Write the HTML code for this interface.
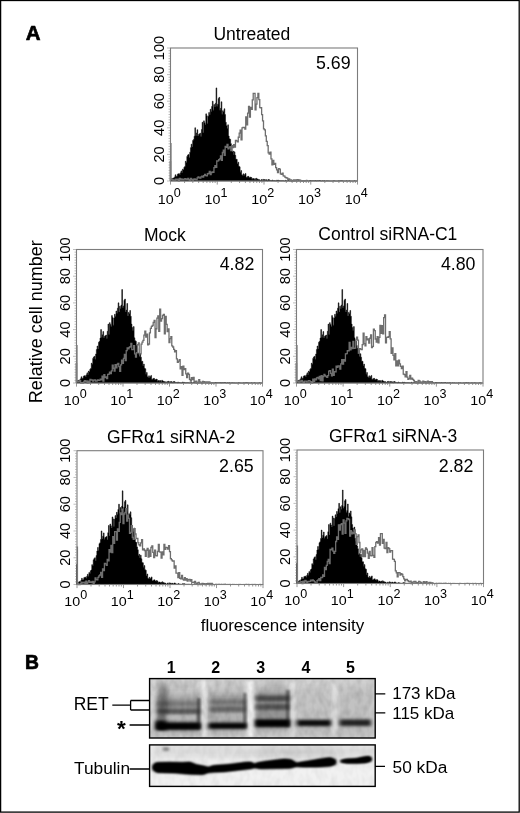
<!DOCTYPE html>
<html><head><meta charset="utf-8"><title>Figure</title>
<style>
html,body{margin:0;padding:0;background:#fff;}
body{width:520px;height:813px;overflow:hidden;position:relative;font-family:"Liberation Sans", Arial, Helvetica, sans-serif;}
#fig{position:absolute;left:0;top:0;width:520px;height:813px;display:block;filter:blur(0.35px);}
#fig text{font-family:"Liberation Sans", Arial, Helvetica, sans-serif;fill:#000;}
</style></head><body>
<svg id="fig" width="520" height="813" viewBox="0 0 520 813">
<rect x="0" y="0" width="520" height="813" fill="#fff"/>
<path d="M170.00,181.00L170.00,161.05L170.73,161.05L170.73,179.23L171.46,179.23L171.46,178.66L172.19,178.66L172.19,178.56L172.92,178.56L172.92,177.90L173.65,177.90L173.65,178.31L174.38,178.31L174.38,176.89L175.11,176.89L175.11,174.79L175.84,174.79L175.84,176.56L176.57,176.56L176.57,176.25L177.30,176.25L177.30,174.18L178.04,174.18L178.04,173.83L178.77,173.83L178.77,173.68L179.50,173.68L179.50,174.81L180.23,174.81L180.23,172.85L180.96,172.85L180.96,170.88L181.69,170.88L181.69,172.69L182.42,172.69L182.42,169.13L183.15,169.13L183.15,170.00L183.88,170.00L183.88,167.33L184.61,167.33L184.61,166.58L185.34,166.58L185.34,161.26L186.07,161.26L186.07,162.38L186.80,162.38L186.80,156.48L187.53,156.48L187.53,155.09L188.26,155.09L188.26,154.41L188.99,154.41L188.99,157.41L189.72,157.41L189.72,152.16L190.45,152.16L190.45,147.66L191.18,147.66L191.18,144.14L191.91,144.14L191.91,147.10L192.64,147.10L192.64,140.39L193.38,140.39L193.38,139.52L194.11,139.52L194.11,136.19L194.84,136.19L194.84,127.75L195.57,127.75L195.57,135.69L196.30,135.69L196.30,132.99L197.03,132.99L197.03,129.73L197.76,129.73L197.76,135.91L198.49,135.91L198.49,134.39L199.22,134.39L199.22,133.86L199.95,133.86L199.95,133.21L200.68,133.21L200.68,136.61L201.41,136.61L201.41,129.52L202.14,129.52L202.14,122.31L202.87,122.31L202.87,132.80L203.60,132.80L203.60,120.86L204.33,120.86L204.33,122.72L205.06,122.72L205.06,124.75L205.79,124.75L205.79,113.85L206.52,113.85L206.52,115.78L207.25,115.78L207.25,123.39L207.98,123.39L207.98,116.22L208.71,116.22L208.71,112.53L209.45,112.53L209.45,114.78L210.18,114.78L210.18,109.25L210.91,109.25L210.91,111.40L211.64,111.40L211.64,106.41L212.37,106.41L212.37,101.15L213.10,101.15L213.10,110.15L213.83,110.15L213.83,104.56L214.56,104.56L214.56,107.07L215.29,107.07L215.29,103.27L216.02,103.27L216.02,87.90L216.75,87.90L216.75,106.14L217.48,106.14L217.48,104.19L218.21,104.19L218.21,98.62L218.94,98.62L218.94,97.37L219.67,97.37L219.67,110.36L220.40,110.36L220.40,108.36L221.13,108.36L221.13,101.79L221.86,101.79L221.86,114.23L222.59,114.23L222.59,110.69L223.32,110.69L223.32,112.00L224.05,112.00L224.05,108.74L224.79,108.74L224.79,114.60L225.52,114.60L225.52,122.34L226.25,122.34L226.25,125.78L226.98,125.78L226.98,128.61L227.71,128.61L227.71,124.81L228.44,124.81L228.44,136.00L229.17,136.00L229.17,138.84L229.90,138.84L229.90,139.32L230.63,139.32L230.63,143.64L231.36,143.64L231.36,146.48L232.09,146.48L232.09,152.07L232.82,152.07L232.82,151.04L233.55,151.04L233.55,154.65L234.28,154.65L234.28,151.84L235.01,151.84L235.01,155.36L235.74,155.36L235.74,159.21L236.47,159.21L236.47,159.37L237.20,159.37L237.20,163.79L237.93,163.79L237.93,162.19L238.66,162.19L238.66,166.34L239.39,166.34L239.39,166.81L240.12,166.81L240.12,172.21L240.86,172.21L240.86,170.56L241.59,170.56L241.59,174.84L242.32,174.84L242.32,175.46L243.05,175.46L243.05,173.82L243.78,173.82L243.78,175.42L244.51,175.42L244.51,174.54L245.24,174.54L245.24,173.46L245.97,173.46L245.97,177.19L246.70,177.19L246.70,177.17L247.43,177.17L247.43,176.43L248.16,176.43L248.16,176.37L248.89,176.37L248.89,177.41L249.62,177.41L249.62,177.71L250.35,177.71L250.35,177.03L251.08,177.03L251.08,177.51L251.81,177.51L251.81,179.28L252.54,179.28L252.54,178.52L253.27,178.52L253.27,178.54L254.00,178.54L254.00,179.61L254.73,179.61L254.73,178.59L255.46,178.59L255.46,179.65L256.20,179.65L256.20,178.27L256.93,178.27L256.93,179.03L257.66,179.03L257.66,179.23L258.39,179.23L258.39,179.85L259.12,179.85L259.12,179.63L259.85,179.63L259.85,180.80L260.58,180.80L260.58,180.45L261.31,180.45L261.31,179.53L262.04,179.53L262.04,180.88L262.77,180.88L262.77,179.33L263.50,179.33L263.50,180.93L264.23,180.93L264.23,179.50L264.96,179.50L264.96,180.48L265.69,180.48L265.69,179.60L266.42,179.60L266.42,180.01L267.15,180.01L267.15,180.96L267.88,180.96L267.88,179.52L268.61,179.52L268.61,179.49L269.34,179.49L269.34,180.30L270.07,180.30L270.07,180.45L270.80,180.45L270.80,180.44L271.54,180.44L271.54,180.84L272.27,180.84L272.27,179.99L273.00,179.99L273.00,180.70L273.73,180.70L273.73,180.51L274.46,180.51L274.46,180.83L275.19,180.83L275.19,180.77L275.92,180.77L275.92,181.00L276.65,181.00L276.65,180.05L277.38,180.05L277.38,180.61L278.11,180.61L278.11,180.20L278.84,180.20L278.84,180.58L279.57,180.58L279.57,180.85L280.30,180.85L280.30,180.73L281.03,180.73L281.03,180.82L281.76,180.82L281.76,180.63L282.49,180.63L282.49,180.77L283.22,180.77L283.22,180.76L283.95,180.76L283.95,181.00L284.68,181.00L284.68,180.95L285.41,180.95L285.41,180.22L286.14,180.22L286.14,180.92L286.88,180.92L286.88,181.00L287.61,181.00L287.61,180.64L288.34,180.64L288.34,180.34L289.07,180.34L289.07,181.00L289.80,181.00L289.80,180.83L290.53,180.83L290.53,180.96L291.26,180.96L291.26,181.00L291.99,181.00L291.99,180.61L292.72,180.61L292.72,180.81L293.45,180.81L293.45,180.79L294.18,180.79L294.18,181.00L294.91,181.00L294.91,180.69L295.64,180.69L295.64,180.95L296.37,180.95L296.37,180.85L297.10,180.85L297.10,181.00L297.83,181.00L297.83,181.00L298.56,181.00L298.56,180.48L299.29,180.48L299.29,180.94L300.02,180.94L300.02,180.75L300.75,180.75L300.75,180.83L301.48,180.83L301.48,180.93L302.21,180.93L302.21,180.95L302.95,180.95L302.95,180.67L303.68,180.67L303.68,180.90L304.41,180.90L304.41,180.86L305.14,180.86L305.14,180.82L305.87,180.82L305.87,180.55L306.60,180.55L306.60,180.67L307.33,180.67L307.33,180.74L308.06,180.74L308.06,180.97L308.79,180.97L308.79,181.00L309.52,181.00L309.52,180.62L310.25,180.62L310.25,180.62L310.98,180.62L310.98,180.87L311.71,180.87L311.71,180.72L312.44,180.72L312.44,180.67L313.17,180.67L313.17,180.66L313.90,180.66L313.90,180.64L314.63,180.64L314.63,180.95L315.36,180.95L315.36,180.51L316.09,180.51L316.09,181.00L316.82,181.00L316.82,180.66L317.55,180.66L317.55,180.75L318.29,180.75L318.29,180.66L319.02,180.66L319.02,180.53L319.75,180.53L319.75,180.54L320.48,180.54L320.48,181.00L321.21,181.00L321.21,181.00L321.94,181.00L321.94,180.69L322.67,180.69L322.67,181.00L323.40,181.00L323.40,180.87L324.13,180.87L324.13,180.69L324.86,180.69L324.86,181.00L325.59,181.00L325.59,181.00L326.32,181.00L326.32,180.82L327.05,180.82L327.05,180.86L327.78,180.86L327.78,180.93L328.51,180.93L328.51,180.87L329.24,180.87L329.24,181.00L329.97,181.00L329.97,181.00L330.70,181.00L330.70,180.91L331.43,180.91L331.43,181.00L332.16,181.00L332.16,181.00L332.89,181.00L332.89,180.79L333.62,180.79L333.62,180.90L334.36,180.90L334.36,180.81L335.09,180.81L335.09,181.00L335.82,181.00L335.82,181.00L336.55,181.00L336.55,181.00L337.28,181.00L337.28,181.00L338.01,181.00L338.01,180.86L338.74,180.86L338.74,181.00L339.47,181.00L339.47,180.83L340.20,180.83L340.20,180.84L340.93,180.84L340.93,180.63L341.66,180.63L341.66,181.00L342.39,181.00L342.39,180.75L343.12,180.75L343.12,180.92L343.85,180.92L343.85,180.91L344.58,180.91L344.58,181.00L345.31,181.00L345.31,180.99L346.04,180.99L346.04,180.78L346.77,180.78L346.77,180.93L347.50,180.93L347.50,180.90L348.23,180.90L348.23,180.96L348.96,180.96L348.96,180.73L349.70,180.73L349.70,180.92L350.43,180.92L350.43,181.00L351.16,181.00L351.16,181.00L351.89,181.00L351.89,181.00L352.62,181.00L352.62,181.00L353.35,181.00L353.35,181.00L354.08,181.00L354.08,180.72L354.81,180.72L354.81,180.92L355.54,180.92L355.54,181.00L356.27,181.00L356.27,181.00L357.00,181.00L357.00,181.00Z" fill="#000" stroke="#000" stroke-width="0.5"/>
<path d="M170.00,143.76L170.94,143.76L170.94,179.67L171.87,179.67L171.87,179.30L172.81,179.30L172.81,180.18L173.74,180.18L173.74,179.93L174.68,179.93L174.68,180.01L175.61,180.01L175.61,179.25L176.55,179.25L176.54,179.64L177.48,179.64L177.48,179.06L178.41,179.06L178.41,180.73L179.35,180.73L179.35,178.47L180.28,178.47L180.28,179.57L181.22,179.57L181.22,178.99L182.16,178.99L182.16,179.54L183.09,179.54L183.09,179.69L184.03,179.69L184.03,179.02L184.96,179.02L184.96,178.66L185.90,178.66L185.90,179.36L186.83,179.36L186.83,179.25L187.76,179.25L187.76,178.49L188.70,178.49L188.70,179.68L189.63,179.68L189.63,180.16L190.57,180.16L190.57,178.47L191.50,178.47L191.50,179.31L192.44,179.31L192.44,180.15L193.38,180.15L193.38,179.26L194.31,179.26L194.31,178.80L195.25,178.80L195.25,179.36L196.18,179.36L196.18,179.53L197.12,179.53L197.12,177.85L198.05,177.85L198.05,176.79L198.99,176.79L198.99,177.82L199.92,177.82L199.92,178.22L200.85,178.22L200.85,176.82L201.79,176.82L201.79,176.27L202.72,176.27L202.72,177.12L203.66,177.12L203.66,175.58L204.59,175.58L204.59,174.39L205.53,174.39L205.53,175.55L206.47,175.55L206.47,175.94L207.40,175.94L207.40,173.75L208.34,173.75L208.34,173.38L209.27,173.38L209.27,171.51L210.20,171.51L210.20,174.62L211.14,174.62L211.14,172.52L212.07,172.52L212.07,171.79L213.01,171.79L213.01,172.47L213.94,172.47L213.94,167.69L214.88,167.69L214.88,165.68L215.81,165.68L215.81,167.37L216.75,167.37L216.75,160.98L217.69,160.98L217.69,160.78L218.62,160.78L218.62,159.75L219.56,159.75L219.56,158.84L220.49,158.84L220.49,155.83L221.43,155.83L221.43,160.39L222.36,160.39L222.36,152.51L223.30,152.51L223.29,150.20L224.23,150.20L224.23,155.29L225.16,155.29L225.16,146.39L226.10,146.39L226.10,147.46L227.03,147.46L227.03,144.36L227.97,144.36L227.97,148.84L228.91,148.84L228.91,147.81L229.84,147.81L229.84,146.61L230.78,146.61L230.78,150.66L231.71,150.66L231.71,145.76L232.64,145.76L232.64,147.60L233.58,147.60L233.58,144.58L234.51,144.58L234.51,147.06L235.45,147.06L235.45,140.46L236.38,140.46L236.38,140.78L237.32,140.78L237.32,141.91L238.25,141.91L238.25,137.26L239.19,137.26L239.19,133.17L240.12,133.17L240.12,130.18L241.06,130.18L241.06,139.97L242.00,139.97L242.00,127.90L242.93,127.90L242.93,127.30L243.87,127.30L243.87,127.38L244.80,127.38L244.80,129.09L245.74,129.09L245.74,116.93L246.67,116.93L246.67,124.88L247.61,124.88L247.60,113.19L248.54,113.19L248.54,106.29L249.47,106.29L249.47,117.00L250.41,117.00L250.41,107.50L251.34,107.50L251.34,109.47L252.28,109.47L252.28,99.94L253.22,99.94L253.21,93.47L254.15,93.47L254.15,93.47L255.08,93.47L255.08,109.96L256.02,109.96L256.02,104.16L256.95,104.16L256.95,97.58L257.89,97.58L257.89,93.47L258.82,93.47L258.82,99.57L259.76,99.57L259.76,107.64L260.69,107.64L260.69,107.73L261.63,107.73L261.63,114.58L262.56,114.58L262.56,120.93L263.50,120.93L263.50,128.86L264.44,128.86L264.44,129.84L265.37,129.84L265.37,135.93L266.31,135.93L266.31,141.29L267.24,141.29L267.24,145.56L268.18,145.56L268.18,152.85L269.11,152.85L269.11,153.98L270.05,153.98L270.04,152.23L270.98,152.23L270.98,158.91L271.92,158.91L271.91,164.76L272.85,164.76L272.85,160.51L273.79,160.51L273.78,164.38L274.72,164.38L274.72,163.40L275.66,163.40L275.65,167.63L276.59,167.63L276.59,169.78L277.52,169.78L277.52,172.71L278.46,172.71L278.46,168.61L279.39,168.61L279.39,169.14L280.33,169.14L280.33,173.89L281.26,173.89L281.26,174.30L282.20,174.30L282.20,173.09L283.13,173.09L283.13,175.95L284.07,175.95L284.07,176.17L285.00,176.17L285.00,177.29L285.94,177.29L285.94,177.75L286.88,177.75L286.88,178.11L287.81,178.11L287.81,179.25L288.75,179.25L288.75,178.90L289.68,178.90L289.68,180.07L290.62,180.07L290.62,179.89L291.55,179.89L291.55,181.00L292.49,181.00L292.49,180.96L293.42,180.96L293.42,179.85L294.35,179.85L294.36,180.56L295.29,180.56L295.29,180.01L296.22,180.01L296.23,180.05L297.16,180.05L297.16,179.71L298.09,179.71L298.10,179.97L299.03,179.97L299.03,179.91L299.96,179.91L299.97,180.44L300.90,180.44L300.90,180.72L301.83,180.72L301.83,180.75L302.77,180.75L302.77,180.66L303.70,180.66L303.70,180.95L304.64,180.95L304.64,180.72L305.57,180.72L305.57,180.55L306.51,180.55L306.51,180.43L307.44,180.43" fill="none" stroke="#6e6e6e" stroke-width="1.3" stroke-linejoin="miter"/>
<rect x="170.5" y="48" width="187" height="133" fill="none" stroke="#7c7c7c" stroke-width="1.1"/>
<path d="M170.50,181v3.6M184.57,181v2.0M192.81,181v2.0M198.65,181v2.0M203.18,181v2.0M206.88,181v2.0M210.01,181v2.0M212.72,181v2.0M215.11,181v2.0M217.25,181v3.6M231.32,181v2.0M239.56,181v2.0M245.40,181v2.0M249.93,181v2.0M253.63,181v2.0M256.76,181v2.0M259.47,181v2.0M261.86,181v2.0M264.00,181v3.6M278.07,181v2.0M286.31,181v2.0M292.15,181v2.0M296.68,181v2.0M300.38,181v2.0M303.51,181v2.0M306.22,181v2.0M308.61,181v2.0M310.75,181v3.6M324.82,181v2.0M333.06,181v2.0M338.90,181v2.0M343.43,181v2.0M347.13,181v2.0M350.26,181v2.0M352.97,181v2.0M355.36,181v2.0M357.5,181v3.6" stroke="#7c7c7c" stroke-width="0.8" fill="none"/>
<path d="M170,181.00h-3M170,178.34h-1.5M170,175.68h-1.5M170,173.02h-1.5M170,170.36h-1.5M170,167.70h-1.5M170,165.04h-1.5M170,162.38h-1.5M170,159.72h-1.5M170,157.06h-1.5M170,154.40h-3M170,151.74h-1.5M170,149.08h-1.5M170,146.42h-1.5M170,143.76h-1.5M170,141.10h-1.5M170,138.44h-1.5M170,135.78h-1.5M170,133.12h-1.5M170,130.46h-1.5M170,127.80h-3M170,125.14h-1.5M170,122.48h-1.5M170,119.82h-1.5M170,117.16h-1.5M170,114.50h-1.5M170,111.84h-1.5M170,109.18h-1.5M170,106.52h-1.5M170,103.86h-1.5M170,101.20h-3M170,98.54h-1.5M170,95.88h-1.5M170,93.22h-1.5M170,90.56h-1.5M170,87.90h-1.5M170,85.24h-1.5M170,82.58h-1.5M170,79.92h-1.5M170,77.26h-1.5M170,74.60h-3M170,71.94h-1.5M170,69.28h-1.5M170,66.62h-1.5M170,63.96h-1.5M170,61.30h-1.5M170,58.64h-1.5M170,55.98h-1.5M170,53.32h-1.5M170,50.66h-1.5M170,48.00h-3" stroke="#7c7c7c" stroke-width="0.5" fill="none"/>
<text transform="translate(173.60,203.75) scale(1.1,1)" text-anchor="end" font-size="13">10</text>
<text transform="translate(173.70,196.75) scale(1.05,1)" font-size="12">0</text>
<text transform="translate(220.35,203.75) scale(1.1,1)" text-anchor="end" font-size="13">10</text>
<text transform="translate(220.45,196.75) scale(1.05,1)" font-size="12">1</text>
<text transform="translate(267.10,203.75) scale(1.1,1)" text-anchor="end" font-size="13">10</text>
<text transform="translate(267.20,196.75) scale(1.05,1)" font-size="12">2</text>
<text transform="translate(313.85,203.75) scale(1.1,1)" text-anchor="end" font-size="13">10</text>
<text transform="translate(313.95,196.75) scale(1.05,1)" font-size="12">3</text>
<text transform="translate(360.60,203.75) scale(1.1,1)" text-anchor="end" font-size="13">10</text>
<text transform="translate(360.70,196.75) scale(1.05,1)" font-size="12">4</text>
<text transform="translate(163.7,181.00) rotate(-90)" text-anchor="middle" font-size="14.6">0</text>
<text transform="translate(163.7,154.40) rotate(-90)" text-anchor="middle" font-size="14.6">20</text>
<text transform="translate(163.7,127.80) rotate(-90)" text-anchor="middle" font-size="14.6">40</text>
<text transform="translate(163.7,101.20) rotate(-90)" text-anchor="middle" font-size="14.6">60</text>
<text transform="translate(163.7,74.60) rotate(-90)" text-anchor="middle" font-size="14.6">80</text>
<text transform="translate(163.7,48.00) rotate(-90)" text-anchor="middle" font-size="14.6">100</text>
<text x="251.9" y="40.1" text-anchor="middle" font-size="17.5">Untreated</text>
<text x="350.6" y="69.3" text-anchor="end" font-size="17.8">5.69</text>
<path d="M76.00,383.00L76.00,362.98L76.73,362.98L76.73,381.22L77.45,381.22L77.45,380.65L78.18,380.65L78.18,380.55L78.91,380.55L78.91,379.89L79.63,379.89L79.63,380.30L80.36,380.30L80.36,378.87L81.09,378.87L81.09,376.76L81.81,376.76L81.81,378.54L82.54,378.54L82.54,378.23L83.27,378.23L83.27,376.16L83.99,376.16L83.99,375.80L84.72,375.80L84.72,375.65L85.45,375.65L85.45,376.78L86.17,376.78L86.17,374.82L86.90,374.82L86.90,372.85L87.62,372.85L87.62,374.66L88.35,374.66L88.35,371.09L89.08,371.09L89.08,371.96L89.80,371.96L89.80,369.28L90.53,369.28L90.53,368.53L91.26,368.53L91.26,363.18L91.98,363.18L91.98,364.31L92.71,364.31L92.71,358.39L93.44,358.39L93.44,356.99L94.16,356.99L94.16,356.31L94.89,356.31L94.89,359.32L95.62,359.32L95.62,354.05L96.34,354.05L96.34,349.54L97.07,349.54L97.07,346.00L97.80,346.00L97.80,348.98L98.52,348.98L98.52,342.24L99.25,342.24L99.25,341.37L99.98,341.37L99.98,338.02L100.70,338.02L100.70,329.55L101.43,329.55L101.43,337.52L102.16,337.52L102.16,334.81L102.88,334.81L102.88,331.53L103.61,331.53L103.61,337.75L104.34,337.75L104.34,336.21L105.06,336.21L105.06,335.68L105.79,335.68L105.79,335.03L106.52,335.03L106.52,338.45L107.24,338.45L107.24,331.32L107.97,331.32L107.97,324.09L108.70,324.09L108.70,334.62L109.42,334.62L109.42,322.63L110.15,322.63L110.15,324.50L110.88,324.50L110.88,326.54L111.60,326.54L111.60,315.59L112.33,315.59L112.33,317.54L113.05,317.54L113.05,325.18L113.78,325.18L113.78,317.97L114.51,317.97L114.51,314.27L115.23,314.27L115.23,316.53L115.96,316.53L115.96,310.98L116.69,310.98L116.69,313.14L117.41,313.14L117.41,308.13L118.14,308.13L118.14,302.85L118.87,302.85L118.87,311.89L119.59,311.89L119.59,306.27L120.32,306.27L120.32,308.80L121.05,308.80L121.05,304.97L121.77,304.97L121.77,289.55L122.50,289.55L122.50,307.86L123.23,307.86L123.23,305.90L123.95,305.90L123.95,300.31L124.68,300.31L124.68,299.06L125.41,299.06L125.41,312.10L126.13,312.10L126.13,310.08L126.86,310.08L126.86,303.49L127.59,303.49L127.59,315.98L128.31,315.98L128.31,312.42L129.04,312.42L129.04,313.74L129.77,313.74L129.77,310.47L130.49,310.47L130.49,316.35L131.22,316.35L131.22,324.12L131.95,324.12L131.95,327.57L132.67,327.57L132.67,330.41L133.40,330.41L133.40,326.60L134.12,326.60L134.12,337.83L134.85,337.83L134.85,340.68L135.58,340.68L135.58,341.16L136.30,341.16L136.30,345.50L137.03,345.50L137.03,348.35L137.76,348.35L137.76,353.96L138.48,353.96L138.48,352.93L139.21,352.93L139.21,356.55L139.94,356.55L139.94,353.73L140.66,353.73L140.66,357.26L141.39,357.26L141.39,361.13L142.12,361.13L142.12,361.29L142.84,361.29L142.84,365.72L143.57,365.72L143.57,364.12L144.30,364.12L144.30,368.29L145.02,368.29L145.02,368.75L145.75,368.75L145.75,374.18L146.48,374.18L146.48,372.52L147.20,372.52L147.20,376.81L147.93,376.81L147.93,377.44L148.66,377.44L148.66,375.80L149.38,375.80L149.38,377.40L150.11,377.40L150.11,376.51L150.84,376.51L150.84,375.43L151.56,375.43L151.56,379.17L152.29,379.17L152.29,379.16L153.02,379.16L153.02,378.41L153.74,378.41L153.74,378.35L154.47,378.35L154.47,379.40L155.20,379.40L155.20,379.70L155.92,379.70L155.92,379.01L156.65,379.01L156.65,379.50L157.38,379.50L157.38,381.27L158.10,381.27L158.10,380.51L158.83,380.51L158.83,380.53L159.55,380.53L159.55,381.61L160.28,381.61L160.28,380.58L161.01,380.58L161.01,381.64L161.73,381.64L161.73,380.26L162.46,380.26L162.46,381.02L163.19,381.02L163.19,381.23L163.91,381.23L163.91,381.85L164.64,381.85L164.64,381.62L165.37,381.62L165.37,382.80L166.09,382.80L166.09,382.45L166.82,382.45L166.82,381.52L167.55,381.52L167.55,382.88L168.27,382.88L168.27,381.32L169.00,381.32L169.00,382.93L169.73,382.93L169.73,381.49L170.45,381.49L170.45,382.48L171.18,382.48L171.18,381.59L171.91,381.59L171.91,382.01L172.63,382.01L172.63,382.96L173.36,382.96L173.36,381.52L174.09,381.52L174.09,381.48L174.81,381.48L174.81,382.30L175.54,382.30L175.54,382.44L176.27,382.44L176.27,382.43L176.99,382.43L176.99,382.84L177.72,382.84L177.72,381.98L178.45,381.98L178.45,382.70L179.17,382.70L179.17,382.51L179.90,382.51L179.90,382.82L180.62,382.82L180.62,382.77L181.35,382.77L181.35,383.00L182.08,383.00L182.08,382.05L182.80,382.05L182.80,382.61L183.53,382.61L183.53,382.20L184.26,382.20L184.26,382.57L184.98,382.57L184.98,382.85L185.71,382.85L185.71,382.72L186.44,382.72L186.44,382.82L187.16,382.82L187.16,382.63L187.89,382.63L187.89,382.77L188.62,382.77L188.62,382.76L189.34,382.76L189.34,383.00L190.07,383.00L190.07,382.95L190.80,382.95L190.80,382.22L191.52,382.22L191.52,382.92L192.25,382.92L192.25,383.00L192.98,383.00L192.98,382.64L193.70,382.64L193.70,382.34L194.43,382.34L194.43,383.00L195.16,383.00L195.16,382.83L195.88,382.83L195.88,382.96L196.61,382.96L196.61,383.00L197.34,383.00L197.34,382.61L198.06,382.61L198.06,382.81L198.79,382.81L198.79,382.79L199.52,382.79L199.52,383.00L200.24,383.00L200.24,382.69L200.97,382.69L200.97,382.95L201.70,382.95L201.70,382.85L202.42,382.85L202.42,383.00L203.15,383.00L203.15,383.00L203.88,383.00L203.88,382.48L204.60,382.48L204.60,382.94L205.33,382.94L205.33,382.75L206.05,382.75L206.05,382.83L206.78,382.83L206.78,382.93L207.51,382.93L207.51,382.95L208.23,382.95L208.23,382.67L208.96,382.67L208.96,382.90L209.69,382.90L209.69,382.86L210.41,382.86L210.41,382.82L211.14,382.82L211.14,382.55L211.87,382.55L211.87,382.67L212.59,382.67L212.59,382.74L213.32,382.74L213.32,382.97L214.05,382.97L214.05,383.00L214.77,383.00L214.77,382.62L215.50,382.62L215.50,382.61L216.23,382.61L216.23,382.87L216.95,382.87L216.95,382.72L217.68,382.72L217.68,382.66L218.41,382.66L218.41,382.66L219.13,382.66L219.13,382.64L219.86,382.64L219.86,382.95L220.59,382.95L220.59,382.51L221.31,382.51L221.31,383.00L222.04,383.00L222.04,382.66L222.77,382.66L222.77,382.74L223.49,382.74L223.49,382.66L224.22,382.66L224.22,382.53L224.95,382.53L224.95,382.53L225.67,382.53L225.67,383.00L226.40,383.00L226.40,383.00L227.12,383.00L227.12,382.69L227.85,382.69L227.85,383.00L228.58,383.00L228.58,382.87L229.30,382.87L229.30,382.69L230.03,382.69L230.03,383.00L230.76,383.00L230.76,383.00L231.48,383.00L231.48,382.82L232.21,382.82L232.21,382.86L232.94,382.86L232.94,382.92L233.66,382.92L233.66,382.87L234.39,382.87L234.39,383.00L235.12,383.00L235.12,383.00L235.84,383.00L235.84,382.91L236.57,382.91L236.57,383.00L237.30,383.00L237.30,383.00L238.02,383.00L238.02,382.79L238.75,382.79L238.75,382.90L239.48,382.90L239.48,382.81L240.20,382.81L240.20,383.00L240.93,383.00L240.93,383.00L241.66,383.00L241.66,383.00L242.38,383.00L242.38,383.00L243.11,383.00L243.11,382.86L243.84,382.86L243.84,383.00L244.56,383.00L244.56,382.83L245.29,382.83L245.29,382.84L246.02,382.84L246.02,382.63L246.74,382.63L246.74,383.00L247.47,383.00L247.47,382.75L248.20,382.75L248.20,382.92L248.92,382.92L248.92,382.91L249.65,382.91L249.65,383.00L250.38,383.00L250.38,382.99L251.10,382.99L251.10,382.78L251.83,382.78L251.83,382.93L252.55,382.93L252.55,382.90L253.28,382.90L253.28,382.96L254.01,382.96L254.01,382.73L254.73,382.73L254.73,382.92L255.46,382.92L255.46,383.00L256.19,383.00L256.19,383.00L256.91,383.00L256.91,383.00L257.64,383.00L257.64,383.00L258.37,383.00L258.37,383.00L259.09,383.00L259.09,382.72L259.82,382.72L259.82,382.92L260.55,382.92L260.55,383.00L261.27,383.00L261.27,383.00L262.00,383.00L262.00,383.00Z" fill="#000" stroke="#000" stroke-width="0.5"/>
<path d="M76.00,345.62L76.93,345.62L76.93,381.67L77.86,381.67L77.86,381.50L78.79,381.50L78.79,381.42L79.72,381.42L79.72,380.58L80.65,380.58L80.65,383.00L81.58,383.00L81.58,382.54L82.51,382.54L82.51,383.00L83.44,383.00L83.44,381.88L84.37,381.88L84.37,380.58L85.30,380.58L85.30,381.66L86.23,381.66L86.23,380.98L87.16,380.98L87.16,383.00L88.09,383.00L88.09,381.25L89.02,381.25L89.02,382.50L89.95,382.50L89.95,379.38L90.88,379.38L90.88,380.07L91.81,380.07L91.81,379.90L92.74,379.90L92.74,381.18L93.67,381.18L93.67,380.19L94.60,380.19L94.60,379.86L95.53,379.86L95.53,380.98L96.46,380.98L96.46,380.91L97.39,380.91L97.39,379.90L98.32,379.90L98.32,380.47L99.25,380.47L99.25,380.13L100.18,380.13L100.18,379.17L101.11,379.17L101.11,379.78L102.04,379.78L102.04,376.14L102.97,376.14L102.97,381.06L103.90,381.06L103.90,374.62L104.83,374.62L104.83,377.62L105.76,377.62L105.76,376.81L106.69,376.81L106.69,378.49L107.62,378.49L107.62,374.41L108.55,374.41L108.55,374.08L109.48,374.08L109.48,372.05L110.41,372.05L110.41,373.69L111.34,373.69L111.34,370.88L112.27,370.88L112.27,365.22L113.20,365.22L113.20,368.23L114.13,368.23L114.13,371.05L115.06,371.05L115.06,364.59L115.99,364.59L115.99,367.94L116.92,367.94L116.92,364.33L117.85,364.33L117.85,363.40L118.78,363.40L118.78,366.67L119.71,366.67L119.71,371.43L120.64,371.43L120.64,364.85L121.57,364.85L121.57,360.04L122.50,360.04L122.50,363.37L123.43,363.37L123.43,358.38L124.36,358.38L124.36,354.52L125.29,354.52L125.29,360.67L126.22,360.67L126.22,350.59L127.15,350.59L127.15,347.86L128.08,347.86L128.08,348.82L129.01,348.82L129.01,347.29L129.94,347.29L129.94,346.59L130.87,346.59L130.87,343.31L131.80,343.31L131.80,349.56L132.73,349.56L132.73,349.61L133.66,349.61L133.66,345.64L134.59,345.64L134.59,353.79L135.52,353.79L135.52,357.04L136.45,357.04L136.45,352.65L137.38,352.65L137.38,344.76L138.31,344.76L138.31,342.91L139.24,342.91L139.24,353.89L140.17,353.89L140.17,353.83L141.10,353.83L141.10,344.09L142.03,344.09L142.03,342.09L142.96,342.09L142.96,340.35L143.89,340.35L143.89,335.21L144.82,335.21L144.82,331.07L145.75,331.07L145.75,337.07L146.68,337.07L146.68,334.06L147.61,334.06L147.61,344.86L148.54,344.86L148.54,344.00L149.47,344.00L149.47,332.94L150.40,332.94L150.40,328.42L151.33,328.42L151.33,326.31L152.26,326.31L152.26,325.52L153.19,325.52L153.19,322.39L154.12,322.39L154.12,320.45L155.05,320.45L155.05,337.53L155.98,337.53L155.98,328.77L156.91,328.77L156.91,318.09L157.84,318.09L157.84,315.89L158.77,315.89L158.77,331.29L159.70,331.29L159.70,309.22L160.63,309.22L160.63,321.07L161.56,321.07L161.56,318.55L162.49,318.55L162.49,315.41L163.42,315.41L163.42,314.42L164.35,314.42L164.35,333.83L165.28,333.83L165.28,316.45L166.21,316.45L166.21,324.35L167.14,324.35L167.14,331.65L168.07,331.65L168.07,328.95L169.00,328.95L169.00,342.63L169.93,342.63L169.93,338.60L170.86,338.60L170.86,336.57L171.79,336.57L171.79,345.87L172.72,345.87L172.72,346.98L173.65,346.98L173.65,349.45L174.58,349.45L174.58,351.95L175.51,351.95L175.51,350.60L176.44,350.60L176.44,358.92L177.37,358.92L177.37,362.33L178.30,362.33L178.30,361.14L179.23,361.14L179.23,359.70L180.16,359.70L180.16,368.84L181.09,368.84L181.09,366.67L182.02,366.67L182.02,375.31L182.95,375.31L182.95,366.09L183.88,366.09L183.88,369.62L184.81,369.62L184.81,368.58L185.74,368.58L185.74,373.84L186.67,373.84L186.67,377.54L187.60,377.54L187.60,373.07L188.53,373.07L188.53,374.45L189.46,374.45L189.46,379.30L190.39,379.30L190.39,381.18L191.32,381.18L191.32,377.64L192.25,377.64L192.25,379.55L193.18,379.55L193.18,377.28L194.11,377.28L194.11,381.48L195.04,381.48L195.04,381.68L195.97,381.68L195.97,381.23L196.90,381.23L196.90,383.00L197.83,383.00L197.83,382.48L198.76,382.48L198.76,379.69L199.69,379.69L199.69,381.79L200.62,381.79L200.62,382.44L201.55,382.44L201.55,383.00L202.48,383.00L202.48,381.51L203.41,381.51L203.41,381.62L204.34,381.62L204.34,381.99L205.27,381.99L205.27,382.57L206.20,382.57L206.20,381.99L207.13,381.99L207.13,381.95L208.06,381.95L208.06,382.85L208.99,382.85L208.99,381.80L209.92,381.80L209.92,383.00L210.85,383.00L210.85,383.00L211.78,383.00L211.78,382.60L212.71,382.60" fill="none" stroke="#6e6e6e" stroke-width="1.3" stroke-linejoin="miter"/>
<rect x="76.5" y="249.5" width="186" height="133.5" fill="none" stroke="#7c7c7c" stroke-width="1.1"/>
<path d="M76.50,383v3.6M90.50,383v2.0M98.69,383v2.0M104.50,383v2.0M109.00,383v2.0M112.68,383v2.0M115.80,383v2.0M118.49,383v2.0M120.87,383v2.0M123.00,383v3.6M137.00,383v2.0M145.19,383v2.0M151.00,383v2.0M155.50,383v2.0M159.18,383v2.0M162.30,383v2.0M164.99,383v2.0M167.37,383v2.0M169.50,383v3.6M183.50,383v2.0M191.69,383v2.0M197.50,383v2.0M202.00,383v2.0M205.68,383v2.0M208.80,383v2.0M211.49,383v2.0M213.87,383v2.0M216.00,383v3.6M230.00,383v2.0M238.19,383v2.0M244.00,383v2.0M248.50,383v2.0M252.18,383v2.0M255.30,383v2.0M257.99,383v2.0M260.37,383v2.0M262.5,383v3.6" stroke="#7c7c7c" stroke-width="0.8" fill="none"/>
<path d="M76,383.00h-3M76,380.33h-1.5M76,377.66h-1.5M76,374.99h-1.5M76,372.32h-1.5M76,369.65h-1.5M76,366.98h-1.5M76,364.31h-1.5M76,361.64h-1.5M76,358.97h-1.5M76,356.30h-3M76,353.63h-1.5M76,350.96h-1.5M76,348.29h-1.5M76,345.62h-1.5M76,342.95h-1.5M76,340.28h-1.5M76,337.61h-1.5M76,334.94h-1.5M76,332.27h-1.5M76,329.60h-3M76,326.93h-1.5M76,324.26h-1.5M76,321.59h-1.5M76,318.92h-1.5M76,316.25h-1.5M76,313.58h-1.5M76,310.91h-1.5M76,308.24h-1.5M76,305.57h-1.5M76,302.90h-3M76,300.23h-1.5M76,297.56h-1.5M76,294.89h-1.5M76,292.22h-1.5M76,289.55h-1.5M76,286.88h-1.5M76,284.21h-1.5M76,281.54h-1.5M76,278.87h-1.5M76,276.20h-3M76,273.53h-1.5M76,270.86h-1.5M76,268.19h-1.5M76,265.52h-1.5M76,262.85h-1.5M76,260.18h-1.5M76,257.51h-1.5M76,254.84h-1.5M76,252.17h-1.5M76,249.50h-3" stroke="#7c7c7c" stroke-width="0.5" fill="none"/>
<text transform="translate(79.60,405) scale(1.1,1)" text-anchor="end" font-size="13">10</text>
<text transform="translate(79.70,398) scale(1.05,1)" font-size="12">0</text>
<text transform="translate(126.10,405) scale(1.1,1)" text-anchor="end" font-size="13">10</text>
<text transform="translate(126.20,398) scale(1.05,1)" font-size="12">1</text>
<text transform="translate(172.60,405) scale(1.1,1)" text-anchor="end" font-size="13">10</text>
<text transform="translate(172.70,398) scale(1.05,1)" font-size="12">2</text>
<text transform="translate(219.10,405) scale(1.1,1)" text-anchor="end" font-size="13">10</text>
<text transform="translate(219.20,398) scale(1.05,1)" font-size="12">3</text>
<text transform="translate(265.60,405) scale(1.1,1)" text-anchor="end" font-size="13">10</text>
<text transform="translate(265.70,398) scale(1.05,1)" font-size="12">4</text>
<text transform="translate(69.7,383.00) rotate(-90)" text-anchor="middle" font-size="14.6">0</text>
<text transform="translate(69.7,356.30) rotate(-90)" text-anchor="middle" font-size="14.6">20</text>
<text transform="translate(69.7,329.60) rotate(-90)" text-anchor="middle" font-size="14.6">40</text>
<text transform="translate(69.7,302.90) rotate(-90)" text-anchor="middle" font-size="14.6">60</text>
<text transform="translate(69.7,276.20) rotate(-90)" text-anchor="middle" font-size="14.6">80</text>
<text transform="translate(69.7,249.50) rotate(-90)" text-anchor="middle" font-size="14.6">100</text>
<text x="164.8" y="240.5" text-anchor="middle" font-size="17.5">Mock</text>
<text x="254.3" y="270.2" text-anchor="end" font-size="17.8">4.82</text>
<path d="M296.00,383.00L296.00,362.98L296.73,362.98L296.73,381.22L297.46,381.22L297.46,380.65L298.19,380.65L298.19,380.55L298.91,380.55L298.91,379.89L299.64,379.89L299.64,380.30L300.37,380.30L300.37,378.87L301.10,378.87L301.10,376.76L301.83,376.76L301.83,378.54L302.56,378.54L302.56,378.23L303.29,378.23L303.29,376.16L304.01,376.16L304.01,375.80L304.74,375.80L304.74,375.65L305.47,375.65L305.47,376.78L306.20,376.78L306.20,374.82L306.93,374.82L306.93,372.85L307.66,372.85L307.66,374.66L308.38,374.66L308.38,371.09L309.11,371.09L309.11,371.96L309.84,371.96L309.84,369.28L310.57,369.28L310.57,368.53L311.30,368.53L311.30,363.18L312.03,363.18L312.03,364.31L312.76,364.31L312.76,358.39L313.48,358.39L313.48,356.99L314.21,356.99L314.21,356.31L314.94,356.31L314.94,359.32L315.67,359.32L315.67,354.05L316.40,354.05L316.40,349.54L317.13,349.54L317.13,346.00L317.86,346.00L317.86,348.98L318.58,348.98L318.58,342.24L319.31,342.24L319.31,341.37L320.04,341.37L320.04,338.02L320.77,338.02L320.77,329.55L321.50,329.55L321.50,337.52L322.23,337.52L322.23,334.81L322.96,334.81L322.96,331.53L323.68,331.53L323.68,337.75L324.41,337.75L324.41,336.21L325.14,336.21L325.14,335.68L325.87,335.68L325.87,335.03L326.60,335.03L326.60,338.45L327.33,338.45L327.33,331.32L328.05,331.32L328.05,324.09L328.78,324.09L328.78,334.62L329.51,334.62L329.51,322.63L330.24,322.63L330.24,324.50L330.97,324.50L330.97,326.54L331.70,326.54L331.70,315.59L332.43,315.59L332.43,317.54L333.15,317.54L333.15,325.18L333.88,325.18L333.88,317.97L334.61,317.97L334.61,314.27L335.34,314.27L335.34,316.53L336.07,316.53L336.07,310.98L336.80,310.98L336.80,313.14L337.53,313.14L337.53,308.13L338.25,308.13L338.25,302.85L338.98,302.85L338.98,311.89L339.71,311.89L339.71,306.27L340.44,306.27L340.44,308.80L341.17,308.80L341.17,304.97L341.90,304.97L341.90,289.55L342.62,289.55L342.62,307.86L343.35,307.86L343.35,305.90L344.08,305.90L344.08,300.31L344.81,300.31L344.81,299.06L345.54,299.06L345.54,312.10L346.27,312.10L346.27,310.08L347.00,310.08L347.00,303.49L347.72,303.49L347.72,315.98L348.45,315.98L348.45,312.42L349.18,312.42L349.18,313.74L349.91,313.74L349.91,310.47L350.64,310.47L350.64,316.35L351.37,316.35L351.37,324.12L352.10,324.12L352.10,327.57L352.82,327.57L352.82,330.41L353.55,330.41L353.55,326.60L354.28,326.60L354.28,337.83L355.01,337.83L355.01,340.68L355.74,340.68L355.74,341.16L356.47,341.16L356.47,345.50L357.20,345.50L357.20,348.35L357.92,348.35L357.92,353.96L358.65,353.96L358.65,352.93L359.38,352.93L359.38,356.55L360.11,356.55L360.11,353.73L360.84,353.73L360.84,357.26L361.57,357.26L361.57,361.13L362.29,361.13L362.29,361.29L363.02,361.29L363.02,365.72L363.75,365.72L363.75,364.12L364.48,364.12L364.48,368.29L365.21,368.29L365.21,368.75L365.94,368.75L365.94,374.18L366.67,374.18L366.67,372.52L367.39,372.52L367.39,376.81L368.12,376.81L368.12,377.44L368.85,377.44L368.85,375.80L369.58,375.80L369.58,377.40L370.31,377.40L370.31,376.51L371.04,376.51L371.04,375.43L371.77,375.43L371.77,379.17L372.49,379.17L372.49,379.16L373.22,379.16L373.22,378.41L373.95,378.41L373.95,378.35L374.68,378.35L374.68,379.40L375.41,379.40L375.41,379.70L376.14,379.70L376.14,379.01L376.87,379.01L376.87,379.50L377.59,379.50L377.59,381.27L378.32,381.27L378.32,380.51L379.05,380.51L379.05,380.53L379.78,380.53L379.78,381.61L380.51,381.61L380.51,380.58L381.24,380.58L381.24,381.64L381.96,381.64L381.96,380.26L382.69,380.26L382.69,381.02L383.42,381.02L383.42,381.23L384.15,381.23L384.15,381.85L384.88,381.85L384.88,381.62L385.61,381.62L385.61,382.80L386.34,382.80L386.34,382.45L387.06,382.45L387.06,381.52L387.79,381.52L387.79,382.88L388.52,382.88L388.52,381.32L389.25,381.32L389.25,382.93L389.98,382.93L389.98,381.49L390.71,381.49L390.71,382.48L391.44,382.48L391.44,381.59L392.16,381.59L392.16,382.01L392.89,382.01L392.89,382.96L393.62,382.96L393.62,381.52L394.35,381.52L394.35,381.48L395.08,381.48L395.08,382.30L395.81,382.30L395.81,382.44L396.54,382.44L396.54,382.43L397.26,382.43L397.26,382.84L397.99,382.84L397.99,381.98L398.72,381.98L398.72,382.70L399.45,382.70L399.45,382.51L400.18,382.51L400.18,382.82L400.91,382.82L400.91,382.77L401.63,382.77L401.63,383.00L402.36,383.00L402.36,382.05L403.09,382.05L403.09,382.61L403.82,382.61L403.82,382.20L404.55,382.20L404.55,382.57L405.28,382.57L405.28,382.85L406.01,382.85L406.01,382.72L406.73,382.72L406.73,382.82L407.46,382.82L407.46,382.63L408.19,382.63L408.19,382.77L408.92,382.77L408.92,382.76L409.65,382.76L409.65,383.00L410.38,383.00L410.38,382.95L411.11,382.95L411.11,382.22L411.83,382.22L411.83,382.92L412.56,382.92L412.56,383.00L413.29,383.00L413.29,382.64L414.02,382.64L414.02,382.34L414.75,382.34L414.75,383.00L415.48,383.00L415.48,382.83L416.21,382.83L416.21,382.96L416.93,382.96L416.93,383.00L417.66,383.00L417.66,382.61L418.39,382.61L418.39,382.81L419.12,382.81L419.12,382.79L419.85,382.79L419.85,383.00L420.58,383.00L420.58,382.69L421.30,382.69L421.30,382.95L422.03,382.95L422.03,382.85L422.76,382.85L422.76,383.00L423.49,383.00L423.49,383.00L424.22,383.00L424.22,382.48L424.95,382.48L424.95,382.94L425.68,382.94L425.68,382.75L426.40,382.75L426.40,382.83L427.13,382.83L427.13,382.93L427.86,382.93L427.86,382.95L428.59,382.95L428.59,382.67L429.32,382.67L429.32,382.90L430.05,382.90L430.05,382.86L430.78,382.86L430.78,382.82L431.50,382.82L431.50,382.55L432.23,382.55L432.23,382.67L432.96,382.67L432.96,382.74L433.69,382.74L433.69,382.97L434.42,382.97L434.42,383.00L435.15,383.00L435.15,382.62L435.88,382.62L435.88,382.61L436.60,382.61L436.60,382.87L437.33,382.87L437.33,382.72L438.06,382.72L438.06,382.66L438.79,382.66L438.79,382.66L439.52,382.66L439.52,382.64L440.25,382.64L440.25,382.95L440.97,382.95L440.97,382.51L441.70,382.51L441.70,383.00L442.43,383.00L442.43,382.66L443.16,382.66L443.16,382.74L443.89,382.74L443.89,382.66L444.62,382.66L444.62,382.53L445.35,382.53L445.35,382.53L446.07,382.53L446.07,383.00L446.80,383.00L446.80,383.00L447.53,383.00L447.53,382.69L448.26,382.69L448.26,383.00L448.99,383.00L448.99,382.87L449.72,382.87L449.72,382.69L450.45,382.69L450.45,383.00L451.17,383.00L451.17,383.00L451.90,383.00L451.90,382.82L452.63,382.82L452.63,382.86L453.36,382.86L453.36,382.92L454.09,382.92L454.09,382.87L454.82,382.87L454.82,383.00L455.54,383.00L455.54,383.00L456.27,383.00L456.27,382.91L457.00,382.91L457.00,383.00L457.73,383.00L457.73,383.00L458.46,383.00L458.46,382.79L459.19,382.79L459.19,382.90L459.92,382.90L459.92,382.81L460.64,382.81L460.64,383.00L461.37,383.00L461.37,383.00L462.10,383.00L462.10,383.00L462.83,383.00L462.83,383.00L463.56,383.00L463.56,382.86L464.29,382.86L464.29,383.00L465.02,383.00L465.02,382.83L465.74,382.83L465.74,382.84L466.47,382.84L466.47,382.63L467.20,382.63L467.20,383.00L467.93,383.00L467.93,382.75L468.66,382.75L468.66,382.92L469.39,382.92L469.39,382.91L470.12,382.91L470.12,383.00L470.84,383.00L470.84,382.99L471.57,382.99L471.57,382.78L472.30,382.78L472.30,382.93L473.03,382.93L473.03,382.90L473.76,382.90L473.76,382.96L474.49,382.96L474.49,382.73L475.21,382.73L475.21,382.92L475.94,382.92L475.94,383.00L476.67,383.00L476.67,383.00L477.40,383.00L477.40,383.00L478.13,383.00L478.13,383.00L478.86,383.00L478.86,383.00L479.59,383.00L479.59,382.72L480.31,382.72L480.31,382.92L481.04,382.92L481.04,383.00L481.77,383.00L481.77,383.00L482.50,383.00L482.50,383.00Z" fill="#000" stroke="#000" stroke-width="0.5"/>
<path d="M296.00,345.62L296.93,345.62L296.93,381.67L297.87,381.67L297.87,381.36L298.80,381.36L298.80,382.04L299.73,382.04L299.73,380.83L300.66,380.83L300.66,381.60L301.60,381.60L301.60,380.44L302.53,380.44L302.53,381.80L303.46,381.80L303.46,382.30L304.39,382.30L304.39,381.09L305.32,381.09L305.32,381.16L306.26,381.16L306.26,381.96L307.19,381.96L307.19,381.78L308.12,381.78L308.12,380.60L309.06,380.60L309.06,380.53L309.99,380.53L309.99,381.89L310.92,381.89L310.92,381.68L311.85,381.68L311.85,383.00L312.79,383.00L312.78,379.19L313.72,379.19L313.72,381.32L314.65,381.32L314.65,379.01L315.58,379.01L315.58,379.89L316.51,379.89L316.51,377.83L317.45,377.83L317.45,377.36L318.38,377.36L318.38,378.94L319.31,378.94L319.31,376.48L320.25,376.48L320.25,380.56L321.18,380.56L321.18,375.71L322.11,375.71L322.11,380.88L323.04,380.88L323.04,376.48L323.98,376.48L323.98,374.28L324.91,374.28L324.91,375.70L325.84,375.70L325.84,376.66L326.77,376.66L326.77,377.31L327.70,377.31L327.70,375.57L328.64,375.57L328.64,371.07L329.57,371.07L329.57,370.76L330.50,370.76L330.50,373.43L331.44,373.43L331.44,375.81L332.37,375.81L332.37,369.19L333.30,369.19L333.30,375.36L334.23,375.36L334.23,371.75L335.17,371.75L335.16,371.87L336.10,371.87L336.10,366.18L337.03,366.18L337.03,367.35L337.96,367.35L337.96,365.93L338.89,365.93L338.89,366.02L339.83,366.02L339.83,368.99L340.76,368.99L340.76,363.80L341.69,363.80L341.69,359.77L342.62,359.77L342.62,364.22L343.56,364.22L343.56,359.58L344.49,359.58L344.49,360.98L345.42,360.98L345.42,353.91L346.36,353.91L346.36,353.63L347.29,353.63L347.29,350.68L348.22,350.68L348.22,350.85L349.15,350.85L349.15,342.36L350.08,342.36L350.08,349.93L351.02,349.93L351.02,347.51L351.95,347.51L351.95,348.67L352.88,348.67L352.88,341.52L353.81,341.52L353.81,348.26L354.75,348.26L354.75,348.09L355.68,348.09L355.68,339.88L356.61,339.88L356.61,337.04L357.55,337.04L357.55,340.16L358.48,340.16L358.48,353.16L359.41,353.16L359.41,348.58L360.34,348.58L360.34,349.06L361.27,349.06L361.27,349.63L362.21,349.63L362.21,344.69L363.14,344.69L363.14,333.17L364.07,333.17L364.07,343.62L365.00,343.62L365.00,345.83L365.94,345.83L365.94,336.61L366.87,336.61L366.87,339.74L367.80,339.74L367.80,338.78L368.74,338.78L368.74,343.08L369.67,343.08L369.67,338.23L370.60,338.23L370.60,334.86L371.53,334.86L371.53,347.59L372.46,347.59L372.46,346.45L373.40,346.45L373.40,329.24L374.33,329.24L374.33,330.60L375.26,330.60L375.26,338.99L376.19,338.99L376.19,342.10L377.13,342.10L377.13,336.62L378.06,336.62L378.06,342.90L378.99,342.90L378.99,337.28L379.93,337.28L379.92,325.33L380.86,325.33L380.86,333.26L381.79,333.26L381.79,325.70L382.72,325.70L382.72,333.94L383.65,333.94L383.65,317.55L384.59,317.55L384.59,314.92L385.52,314.92L385.52,342.77L386.45,342.77L386.45,337.43L387.38,337.43L387.38,337.27L388.32,337.27L388.32,336.76L389.25,336.76L389.25,331.71L390.18,331.71L390.18,338.94L391.12,338.94L391.12,353.29L392.05,353.29L392.05,348.02L392.98,348.02L392.98,355.30L393.91,355.30L393.91,359.91L394.85,359.91L394.84,353.70L395.78,353.70L395.78,365.73L396.71,365.73L396.71,360.97L397.64,360.97L397.64,365.78L398.57,365.78L398.57,360.14L399.51,360.14L399.51,363.87L400.44,363.87L400.44,366.37L401.37,366.37L401.37,368.72L402.31,368.72L402.31,366.17L403.24,366.17L403.24,374.19L404.17,374.19L404.17,374.69L405.10,374.69L405.10,376.92L406.03,376.92L406.03,371.58L406.97,371.58L406.97,377.03L407.90,377.03L407.90,379.33L408.83,379.33L408.83,378.53L409.76,378.53L409.76,375.28L410.70,375.28L410.70,379.15L411.63,379.15L411.63,378.15L412.56,378.15L412.56,379.39L413.50,379.39L413.50,380.51L414.43,380.51L414.43,381.80L415.36,381.80L415.36,381.65L416.29,381.65L416.29,382.00L417.23,382.00L417.22,383.00L418.16,383.00L418.16,380.38L419.09,380.38L419.09,381.00L420.02,381.00L420.02,381.83L420.95,381.83L420.95,382.17L421.89,382.17L421.89,382.74L422.82,382.74L422.82,381.21L423.75,381.21L423.75,382.26L424.69,382.26L424.68,381.73L425.62,381.73L425.62,383.00L426.55,383.00L426.55,381.91L427.48,381.91L427.48,381.07L428.41,381.07L428.41,382.52L429.35,382.52L429.35,381.74L430.28,381.74L430.28,382.35L431.21,382.35L431.21,381.64L432.14,381.64L432.14,381.73L433.08,381.73" fill="none" stroke="#6e6e6e" stroke-width="1.3" stroke-linejoin="miter"/>
<rect x="296.5" y="249.5" width="186.5" height="133.5" fill="none" stroke="#7c7c7c" stroke-width="1.1"/>
<path d="M296.50,383v3.6M310.54,383v2.0M318.75,383v2.0M324.57,383v2.0M329.09,383v2.0M332.78,383v2.0M335.90,383v2.0M338.61,383v2.0M340.99,383v2.0M343.12,383v3.6M357.16,383v2.0M365.37,383v2.0M371.20,383v2.0M375.71,383v2.0M379.41,383v2.0M382.53,383v2.0M385.23,383v2.0M387.62,383v2.0M389.75,383v3.6M403.79,383v2.0M412.00,383v2.0M417.82,383v2.0M422.34,383v2.0M426.03,383v2.0M429.15,383v2.0M431.86,383v2.0M434.24,383v2.0M436.38,383v3.6M450.41,383v2.0M458.62,383v2.0M464.45,383v2.0M468.96,383v2.0M472.66,383v2.0M475.78,383v2.0M478.48,383v2.0M480.87,383v2.0M483.0,383v3.6" stroke="#7c7c7c" stroke-width="0.8" fill="none"/>
<path d="M296,383.00h-3M296,380.33h-1.5M296,377.66h-1.5M296,374.99h-1.5M296,372.32h-1.5M296,369.65h-1.5M296,366.98h-1.5M296,364.31h-1.5M296,361.64h-1.5M296,358.97h-1.5M296,356.30h-3M296,353.63h-1.5M296,350.96h-1.5M296,348.29h-1.5M296,345.62h-1.5M296,342.95h-1.5M296,340.28h-1.5M296,337.61h-1.5M296,334.94h-1.5M296,332.27h-1.5M296,329.60h-3M296,326.93h-1.5M296,324.26h-1.5M296,321.59h-1.5M296,318.92h-1.5M296,316.25h-1.5M296,313.58h-1.5M296,310.91h-1.5M296,308.24h-1.5M296,305.57h-1.5M296,302.90h-3M296,300.23h-1.5M296,297.56h-1.5M296,294.89h-1.5M296,292.22h-1.5M296,289.55h-1.5M296,286.88h-1.5M296,284.21h-1.5M296,281.54h-1.5M296,278.87h-1.5M296,276.20h-3M296,273.53h-1.5M296,270.86h-1.5M296,268.19h-1.5M296,265.52h-1.5M296,262.85h-1.5M296,260.18h-1.5M296,257.51h-1.5M296,254.84h-1.5M296,252.17h-1.5M296,249.50h-3" stroke="#7c7c7c" stroke-width="0.5" fill="none"/>
<text transform="translate(299.60,405) scale(1.1,1)" text-anchor="end" font-size="13">10</text>
<text transform="translate(299.70,398) scale(1.05,1)" font-size="12">0</text>
<text transform="translate(346.23,405) scale(1.1,1)" text-anchor="end" font-size="13">10</text>
<text transform="translate(346.32,398) scale(1.05,1)" font-size="12">1</text>
<text transform="translate(392.85,405) scale(1.1,1)" text-anchor="end" font-size="13">10</text>
<text transform="translate(392.95,398) scale(1.05,1)" font-size="12">2</text>
<text transform="translate(439.48,405) scale(1.1,1)" text-anchor="end" font-size="13">10</text>
<text transform="translate(439.57,398) scale(1.05,1)" font-size="12">3</text>
<text transform="translate(486.10,405) scale(1.1,1)" text-anchor="end" font-size="13">10</text>
<text transform="translate(486.20,398) scale(1.05,1)" font-size="12">4</text>
<text transform="translate(289.7,383.00) rotate(-90)" text-anchor="middle" font-size="14.6">0</text>
<text transform="translate(289.7,356.30) rotate(-90)" text-anchor="middle" font-size="14.6">20</text>
<text transform="translate(289.7,329.60) rotate(-90)" text-anchor="middle" font-size="14.6">40</text>
<text transform="translate(289.7,302.90) rotate(-90)" text-anchor="middle" font-size="14.6">60</text>
<text transform="translate(289.7,276.20) rotate(-90)" text-anchor="middle" font-size="14.6">80</text>
<text transform="translate(289.7,249.50) rotate(-90)" text-anchor="middle" font-size="14.6">100</text>
<text x="387.8" y="240" text-anchor="middle" font-size="17.5">Control siRNA-C1</text>
<text x="475.5" y="270" text-anchor="end" font-size="17.8">4.80</text>
<path d="M76.50,584.50L76.50,564.43L77.23,564.43L77.23,582.72L77.95,582.72L77.95,582.14L78.68,582.14L78.68,582.04L79.41,582.04L79.41,581.38L80.13,581.38L80.13,581.80L80.86,581.80L80.86,580.36L81.59,580.36L81.59,578.25L82.31,578.25L82.31,580.03L83.04,580.03L83.04,579.72L83.77,579.72L83.77,577.64L84.49,577.64L84.49,577.29L85.22,577.29L85.22,577.13L85.95,577.13L85.95,578.27L86.67,578.27L86.67,576.30L87.40,576.30L87.40,574.32L88.12,574.32L88.12,576.14L88.85,576.14L88.85,572.56L89.58,572.56L89.58,573.44L90.30,573.44L90.30,570.75L91.03,570.75L91.03,569.99L91.76,569.99L91.76,564.64L92.48,564.64L92.48,565.77L93.21,565.77L93.21,559.84L93.94,559.84L93.94,558.43L94.66,558.43L94.66,557.75L95.39,557.75L95.39,560.77L96.12,560.77L96.12,555.49L96.84,555.49L96.84,550.96L97.57,550.96L97.57,547.42L98.30,547.42L98.30,550.40L99.02,550.40L99.02,543.64L99.75,543.64L99.75,542.77L100.48,542.77L100.48,539.42L101.20,539.42L101.20,530.93L101.93,530.93L101.93,538.92L102.66,538.92L102.66,536.20L103.38,536.20L103.38,532.92L104.11,532.92L104.11,539.14L104.84,539.14L104.84,537.61L105.56,537.61L105.56,537.07L106.29,537.07L106.29,536.43L107.02,536.43L107.02,539.85L107.74,539.85L107.74,532.71L108.47,532.71L108.47,525.46L109.20,525.46L109.20,536.01L109.92,536.01L109.92,523.99L110.65,523.99L110.65,525.87L111.38,525.87L111.38,527.91L112.10,527.91L112.10,516.94L112.83,516.94L112.83,518.89L113.55,518.89L113.55,526.55L114.28,526.55L114.28,519.33L115.01,519.33L115.01,515.62L115.73,515.62L115.73,517.88L116.46,517.88L116.46,512.32L117.19,512.32L117.19,514.49L117.91,514.49L117.91,509.46L118.64,509.46L118.64,504.17L119.37,504.17L119.37,513.23L120.09,513.23L120.09,507.60L120.82,507.60L120.82,510.13L121.55,510.13L121.55,506.30L122.27,506.30L122.27,490.84L123.00,490.84L123.00,509.19L123.73,509.19L123.73,507.23L124.45,507.23L124.45,501.63L125.18,501.63L125.18,500.37L125.91,500.37L125.91,513.44L126.63,513.44L126.63,511.42L127.36,511.42L127.36,504.81L128.09,504.81L128.09,517.33L128.81,517.33L128.81,513.76L129.54,513.76L129.54,515.08L130.27,515.08L130.27,511.81L130.99,511.81L130.99,517.70L131.72,517.70L131.72,525.49L132.45,525.49L132.45,528.95L133.17,528.95L133.17,531.80L133.90,531.80L133.90,527.97L134.62,527.97L134.62,539.23L135.35,539.23L135.35,542.09L136.08,542.09L136.08,542.57L136.80,542.57L136.80,546.91L137.53,546.91L137.53,549.77L138.26,549.77L138.26,555.40L138.98,555.40L138.98,554.36L139.71,554.36L139.71,557.99L140.44,557.99L140.44,555.16L141.16,555.16L141.16,558.71L141.89,558.71L141.89,562.58L142.62,562.58L142.62,562.74L143.34,562.74L143.34,567.18L144.07,567.18L144.07,565.58L144.80,565.58L144.80,569.75L145.52,569.75L145.52,570.22L146.25,570.22L146.25,575.66L146.98,575.66L146.98,573.99L147.70,573.99L147.70,578.30L148.43,578.30L148.43,578.92L149.16,578.92L149.16,577.28L149.88,577.28L149.88,578.89L150.61,578.89L150.61,578.00L151.34,578.00L151.34,576.91L152.06,576.91L152.06,580.66L152.79,580.66L152.79,580.65L153.52,580.65L153.52,579.90L154.24,579.90L154.24,579.84L154.97,579.84L154.97,580.89L155.70,580.89L155.70,581.19L156.42,581.19L156.42,580.51L157.15,580.51L157.15,580.99L157.88,580.99L157.88,582.77L158.60,582.77L158.60,582.00L159.33,582.00L159.33,582.02L160.05,582.02L160.05,583.11L160.78,583.11L160.78,582.08L161.51,582.08L161.51,583.14L162.23,583.14L162.23,581.76L162.96,581.76L162.96,582.52L163.69,582.52L163.69,582.72L164.41,582.72L164.41,583.34L165.14,583.34L165.14,583.12L165.87,583.12L165.87,584.30L166.59,584.30L166.59,583.95L167.32,583.95L167.32,583.02L168.05,583.02L168.05,584.38L168.77,584.38L168.77,582.82L169.50,582.82L169.50,584.43L170.23,584.43L170.23,582.99L170.95,582.99L170.95,583.98L171.68,583.98L171.68,583.09L172.41,583.09L172.41,583.51L173.13,583.51L173.13,584.46L173.86,584.46L173.86,583.01L174.59,583.01L174.59,582.98L175.31,582.98L175.31,583.80L176.04,583.80L176.04,583.94L176.77,583.94L176.77,583.93L177.49,583.93L177.49,584.34L178.22,584.34L178.22,583.48L178.95,583.48L178.95,584.20L179.67,584.20L179.67,584.01L180.40,584.01L180.40,584.32L181.12,584.32L181.12,584.27L181.85,584.27L181.85,584.50L182.58,584.50L182.58,583.55L183.30,583.55L183.30,584.11L184.03,584.11L184.03,583.70L184.76,583.70L184.76,584.07L185.48,584.07L185.48,584.35L186.21,584.35L186.21,584.22L186.94,584.22L186.94,584.32L187.66,584.32L187.66,584.13L188.39,584.13L188.39,584.27L189.12,584.27L189.12,584.26L189.84,584.26L189.84,584.50L190.57,584.50L190.57,584.45L191.30,584.45L191.30,583.72L192.02,583.72L192.02,584.42L192.75,584.42L192.75,584.50L193.48,584.50L193.48,584.13L194.20,584.13L194.20,583.84L194.93,583.84L194.93,584.50L195.66,584.50L195.66,584.33L196.38,584.33L196.38,584.46L197.11,584.46L197.11,584.50L197.84,584.50L197.84,584.11L198.56,584.11L198.56,584.31L199.29,584.31L199.29,584.29L200.02,584.29L200.02,584.50L200.74,584.50L200.74,584.19L201.47,584.19L201.47,584.44L202.20,584.44L202.20,584.35L202.92,584.35L202.92,584.50L203.65,584.50L203.65,584.50L204.38,584.50L204.38,583.98L205.10,583.98L205.10,584.44L205.83,584.44L205.83,584.25L206.55,584.25L206.55,584.33L207.28,584.33L207.28,584.43L208.01,584.43L208.01,584.45L208.73,584.45L208.73,584.17L209.46,584.17L209.46,584.40L210.19,584.40L210.19,584.36L210.91,584.36L210.91,584.32L211.64,584.32L211.64,584.05L212.37,584.05L212.37,584.17L213.09,584.17L213.09,584.24L213.82,584.24L213.82,584.47L214.55,584.47L214.55,584.50L215.27,584.50L215.27,584.11L216.00,584.11L216.00,584.11L216.73,584.11L216.73,584.37L217.45,584.37L217.45,584.22L218.18,584.22L218.18,584.16L218.91,584.16L218.91,584.15L219.63,584.15L219.63,584.14L220.36,584.14L220.36,584.45L221.09,584.45L221.09,584.01L221.81,584.01L221.81,584.50L222.54,584.50L222.54,584.16L223.27,584.16L223.27,584.24L223.99,584.24L223.99,584.16L224.72,584.16L224.72,584.03L225.45,584.03L225.45,584.03L226.17,584.03L226.17,584.50L226.90,584.50L226.90,584.50L227.62,584.50L227.62,584.19L228.35,584.19L228.35,584.50L229.08,584.50L229.08,584.37L229.80,584.37L229.80,584.19L230.53,584.19L230.53,584.50L231.26,584.50L231.26,584.50L231.98,584.50L231.98,584.32L232.71,584.32L232.71,584.36L233.44,584.36L233.44,584.42L234.16,584.42L234.16,584.37L234.89,584.37L234.89,584.50L235.62,584.50L235.62,584.50L236.34,584.50L236.34,584.41L237.07,584.41L237.07,584.50L237.80,584.50L237.80,584.50L238.52,584.50L238.52,584.29L239.25,584.29L239.25,584.40L239.98,584.40L239.98,584.31L240.70,584.31L240.70,584.50L241.43,584.50L241.43,584.50L242.16,584.50L242.16,584.50L242.88,584.50L242.88,584.50L243.61,584.50L243.61,584.36L244.34,584.36L244.34,584.50L245.06,584.50L245.06,584.33L245.79,584.33L245.79,584.34L246.52,584.34L246.52,584.13L247.24,584.13L247.24,584.50L247.97,584.50L247.97,584.24L248.70,584.24L248.70,584.42L249.42,584.42L249.42,584.41L250.15,584.41L250.15,584.50L250.88,584.50L250.88,584.49L251.60,584.49L251.60,584.28L252.33,584.28L252.33,584.43L253.05,584.43L253.05,584.40L253.78,584.40L253.78,584.46L254.51,584.46L254.51,584.23L255.23,584.23L255.23,584.42L255.96,584.42L255.96,584.50L256.69,584.50L256.69,584.50L257.41,584.50L257.41,584.50L258.14,584.50L258.14,584.50L258.87,584.50L258.87,584.50L259.59,584.50L259.59,584.22L260.32,584.22L260.32,584.42L261.05,584.42L261.05,584.50L261.77,584.50L261.77,584.50L262.50,584.50L262.50,584.50Z" fill="#000" stroke="#000" stroke-width="0.5"/>
<path d="M76.50,547.04L77.43,547.04L77.43,583.16L78.36,583.16L78.36,584.50L79.29,584.50L79.29,584.50L80.22,584.50L80.22,583.71L81.15,583.71L81.15,582.22L82.08,582.22L82.08,583.19L83.01,583.19L83.01,582.64L83.94,582.64L83.94,582.03L84.87,582.03L84.87,583.83L85.80,583.83L85.80,581.25L86.73,581.25L86.73,583.64L87.66,583.64L87.66,582.11L88.59,582.11L88.59,580.63L89.52,580.63L89.52,582.39L90.45,582.39L90.45,581.97L91.38,581.97L91.38,582.63L92.31,582.63L92.31,581.38L93.24,581.38L93.24,583.80L94.17,583.80L94.17,581.88L95.10,581.88L95.10,577.97L96.03,577.97L96.03,579.59L96.96,579.59L96.96,579.92L97.89,579.92L97.89,577.34L98.82,577.34L98.82,575.80L99.75,575.80L99.75,574.99L100.68,574.99L100.68,572.47L101.61,572.47L101.61,577.24L102.54,577.24L102.54,568.98L103.47,568.98L103.47,570.61L104.40,570.61L104.40,563.35L105.33,563.35L105.33,563.83L106.26,563.83L106.26,565.30L107.19,565.30L107.19,559.37L108.12,559.37L108.12,560.97L109.05,560.97L109.05,549.75L109.98,549.75L109.98,551.99L110.91,551.99L110.91,545.35L111.84,545.35L111.84,552.56L112.77,552.56L112.77,536.67L113.70,536.67L113.70,543.28L114.63,543.28L114.63,531.55L115.56,531.55L115.56,531.53L116.49,531.53L116.49,540.01L117.42,540.01L117.42,528.94L118.35,528.94L118.35,531.24L119.28,531.24L119.28,522.46L120.21,522.46L120.21,512.94L121.14,512.94L121.14,514.67L122.07,514.67L122.07,509.12L123.00,509.12L123.00,523.68L123.93,523.68L123.93,514.00L124.86,514.00L124.86,512.50L125.79,512.50L125.79,508.70L126.72,508.70L126.72,521.18L127.65,521.18L127.65,515.07L128.58,515.07L128.58,518.45L129.51,518.45L129.51,533.25L130.44,533.25L130.44,532.47L131.37,532.47L131.37,525.74L132.30,525.74L132.30,537.49L133.23,537.49L133.23,539.38L134.16,539.38L134.16,528.74L135.09,528.74L135.09,533.99L136.02,533.99L136.02,538.61L136.95,538.61L136.95,538.43L137.88,538.43L137.88,542.64L138.81,542.64L138.81,544.76L139.74,544.76L139.74,545.78L140.67,545.78L140.67,542.88L141.60,542.88L141.60,539.69L142.53,539.69L142.53,549.84L143.46,549.84L143.46,548.83L144.39,548.83L144.39,550.51L145.32,550.51L145.32,556.40L146.25,556.40L146.25,550.24L147.18,550.24L147.18,548.41L148.11,548.41L148.11,557.01L149.04,557.01L149.04,550.27L149.97,550.27L149.97,556.41L150.90,556.41L150.90,547.50L151.83,547.50L151.83,546.02L152.76,546.02L152.76,552.37L153.69,552.37L153.69,557.62L154.62,557.62L154.62,550.07L155.55,550.07L155.55,555.70L156.48,555.70L156.48,555.88L157.41,555.88L157.41,551.40L158.34,551.40L158.34,544.41L159.27,544.41L159.27,551.84L160.20,551.84L160.20,552.21L161.13,552.21L161.13,558.19L162.06,558.19L162.06,551.97L162.99,551.97L162.99,554.80L163.92,554.80L163.92,544.32L164.85,544.32L164.85,549.25L165.78,549.25L165.78,547.34L166.71,547.34L166.71,547.70L167.64,547.70L167.64,549.04L168.57,549.04L168.57,545.64L169.50,545.64L169.50,551.54L170.43,551.54L170.43,558.64L171.36,558.64L171.36,559.81L172.29,559.81L172.29,561.02L173.22,561.02L173.22,560.96L174.15,560.96L174.15,568.02L175.08,568.02L175.08,565.92L176.01,565.92L176.01,573.16L176.94,573.16L176.94,573.17L177.87,573.17L177.87,577.59L178.80,577.59L178.80,572.63L179.73,572.63L179.73,578.27L180.66,578.27L180.66,578.90L181.59,578.90L181.59,575.44L182.52,575.44L182.52,579.11L183.45,579.11L183.45,580.21L184.38,580.21L184.38,577.75L185.31,577.75L185.31,580.12L186.24,580.12L186.24,578.54L187.17,578.54L187.17,581.07L188.10,581.07L188.10,579.58L189.03,579.58L189.03,579.40L189.96,579.40L189.96,581.22L190.89,581.22L190.89,579.60L191.82,579.60L191.82,582.47L192.75,582.47L192.75,582.42L193.68,582.42L193.68,582.27L194.61,582.27L194.61,581.44L195.54,581.44L195.54,583.08L196.47,583.08L196.47,583.42L197.40,583.42L197.40,582.95L198.33,582.95L198.33,582.32L199.26,582.32L199.26,583.92L200.19,583.92L200.19,584.50L201.12,584.50L201.12,583.81L202.05,583.81L202.05,583.29L202.98,583.29L202.98,584.13L203.91,584.13L203.91,583.68L204.84,583.68L204.84,584.50L205.77,584.50L205.77,583.78L206.70,583.78L206.70,583.74L207.63,583.74L207.63,583.41L208.56,583.41L208.56,583.63L209.49,583.63L209.49,583.35L210.42,583.35L210.42,584.50L211.35,584.50L211.35,583.46L212.28,583.46L212.28,584.50L213.21,584.50" fill="none" stroke="#6e6e6e" stroke-width="1.3" stroke-linejoin="miter"/>
<rect x="77.0" y="450.7" width="186.0" height="133.8" fill="none" stroke="#7c7c7c" stroke-width="1.1"/>
<path d="M77.00,584.5v3.6M91.00,584.5v2.0M99.19,584.5v2.0M105.00,584.5v2.0M109.50,584.5v2.0M113.18,584.5v2.0M116.30,584.5v2.0M118.99,584.5v2.0M121.37,584.5v2.0M123.50,584.5v3.6M137.50,584.5v2.0M145.69,584.5v2.0M151.50,584.5v2.0M156.00,584.5v2.0M159.68,584.5v2.0M162.80,584.5v2.0M165.49,584.5v2.0M167.87,584.5v2.0M170.00,584.5v3.6M184.00,584.5v2.0M192.19,584.5v2.0M198.00,584.5v2.0M202.50,584.5v2.0M206.18,584.5v2.0M209.30,584.5v2.0M211.99,584.5v2.0M214.37,584.5v2.0M216.50,584.5v3.6M230.50,584.5v2.0M238.69,584.5v2.0M244.50,584.5v2.0M249.00,584.5v2.0M252.68,584.5v2.0M255.80,584.5v2.0M258.49,584.5v2.0M260.87,584.5v2.0M263.0,584.5v3.6" stroke="#7c7c7c" stroke-width="0.8" fill="none"/>
<path d="M76.5,584.50h-3M76.5,581.82h-1.5M76.5,579.15h-1.5M76.5,576.47h-1.5M76.5,573.80h-1.5M76.5,571.12h-1.5M76.5,568.44h-1.5M76.5,565.77h-1.5M76.5,563.09h-1.5M76.5,560.42h-1.5M76.5,557.74h-3M76.5,555.06h-1.5M76.5,552.39h-1.5M76.5,549.71h-1.5M76.5,547.04h-1.5M76.5,544.36h-1.5M76.5,541.68h-1.5M76.5,539.01h-1.5M76.5,536.33h-1.5M76.5,533.66h-1.5M76.5,530.98h-3M76.5,528.30h-1.5M76.5,525.63h-1.5M76.5,522.95h-1.5M76.5,520.28h-1.5M76.5,517.60h-1.5M76.5,514.92h-1.5M76.5,512.25h-1.5M76.5,509.57h-1.5M76.5,506.90h-1.5M76.5,504.22h-3M76.5,501.54h-1.5M76.5,498.87h-1.5M76.5,496.19h-1.5M76.5,493.52h-1.5M76.5,490.84h-1.5M76.5,488.16h-1.5M76.5,485.49h-1.5M76.5,482.81h-1.5M76.5,480.14h-1.5M76.5,477.46h-3M76.5,474.78h-1.5M76.5,472.11h-1.5M76.5,469.43h-1.5M76.5,466.76h-1.5M76.5,464.08h-1.5M76.5,461.40h-1.5M76.5,458.73h-1.5M76.5,456.05h-1.5M76.5,453.38h-1.5M76.5,450.70h-3" stroke="#7c7c7c" stroke-width="0.5" fill="none"/>
<text transform="translate(80.10,606.0) scale(1.1,1)" text-anchor="end" font-size="13">10</text>
<text transform="translate(80.20,599.0) scale(1.05,1)" font-size="12">0</text>
<text transform="translate(126.60,606.0) scale(1.1,1)" text-anchor="end" font-size="13">10</text>
<text transform="translate(126.70,599.0) scale(1.05,1)" font-size="12">1</text>
<text transform="translate(173.10,606.0) scale(1.1,1)" text-anchor="end" font-size="13">10</text>
<text transform="translate(173.20,599.0) scale(1.05,1)" font-size="12">2</text>
<text transform="translate(219.60,606.0) scale(1.1,1)" text-anchor="end" font-size="13">10</text>
<text transform="translate(219.70,599.0) scale(1.05,1)" font-size="12">3</text>
<text transform="translate(266.10,606.0) scale(1.1,1)" text-anchor="end" font-size="13">10</text>
<text transform="translate(266.20,599.0) scale(1.05,1)" font-size="12">4</text>
<text transform="translate(70.2,584.50) rotate(-90)" text-anchor="middle" font-size="14.6">0</text>
<text transform="translate(70.2,557.74) rotate(-90)" text-anchor="middle" font-size="14.6">20</text>
<text transform="translate(70.2,530.98) rotate(-90)" text-anchor="middle" font-size="14.6">40</text>
<text transform="translate(70.2,504.22) rotate(-90)" text-anchor="middle" font-size="14.6">60</text>
<text transform="translate(70.2,477.46) rotate(-90)" text-anchor="middle" font-size="14.6">80</text>
<text transform="translate(70.2,450.70) rotate(-90)" text-anchor="middle" font-size="14.6">100</text>
<text x="171" y="443.4" text-anchor="middle" font-size="17.5">GFR<tspan font-family="'DejaVu Sans', 'Liberation Sans', sans-serif" font-size="17.5">α</tspan>1 siRNA-2</text>
<text x="253.7" y="471.8" text-anchor="end" font-size="17.8">2.65</text>
<path d="M296.50,583.50L296.50,563.48L297.23,563.48L297.23,581.72L297.96,581.72L297.96,581.15L298.69,581.15L298.69,581.05L299.41,581.05L299.41,580.39L300.14,580.39L300.14,580.80L300.87,580.80L300.87,579.37L301.60,579.37L301.60,577.26L302.33,577.26L302.33,579.04L303.06,579.04L303.06,578.73L303.79,578.73L303.79,576.66L304.51,576.66L304.51,576.30L305.24,576.30L305.24,576.15L305.97,576.15L305.97,577.28L306.70,577.28L306.70,575.32L307.43,575.32L307.43,573.35L308.16,573.35L308.16,575.16L308.88,575.16L308.88,571.59L309.61,571.59L309.61,572.46L310.34,572.46L310.34,569.78L311.07,569.78L311.07,569.03L311.80,569.03L311.80,563.68L312.53,563.68L312.53,564.81L313.26,564.81L313.26,558.89L313.98,558.89L313.98,557.49L314.71,557.49L314.71,556.81L315.44,556.81L315.44,559.82L316.17,559.82L316.17,554.55L316.90,554.55L316.90,550.04L317.63,550.04L317.63,546.50L318.36,546.50L318.36,549.48L319.08,549.48L319.08,542.74L319.81,542.74L319.81,541.87L320.54,541.87L320.54,538.52L321.27,538.52L321.27,530.05L322.00,530.05L322.00,538.02L322.73,538.02L322.73,535.31L323.46,535.31L323.46,532.03L324.18,532.03L324.18,538.25L324.91,538.25L324.91,536.71L325.64,536.71L325.64,536.18L326.37,536.18L326.37,535.53L327.10,535.53L327.10,538.95L327.83,538.95L327.83,531.82L328.55,531.82L328.55,524.59L329.28,524.59L329.28,535.12L330.01,535.12L330.01,523.13L330.74,523.13L330.74,525.00L331.47,525.00L331.47,527.04L332.20,527.04L332.20,516.09L332.93,516.09L332.93,518.04L333.65,518.04L333.65,525.68L334.38,525.68L334.38,518.47L335.11,518.47L335.11,514.77L335.84,514.77L335.84,517.03L336.57,517.03L336.57,511.48L337.30,511.48L337.30,513.64L338.03,513.64L338.03,508.63L338.75,508.63L338.75,503.35L339.48,503.35L339.48,512.39L340.21,512.39L340.21,506.77L340.94,506.77L340.94,509.30L341.67,509.30L341.67,505.47L342.40,505.47L342.40,490.05L343.12,490.05L343.12,508.36L343.85,508.36L343.85,506.40L344.58,506.40L344.58,500.81L345.31,500.81L345.31,499.56L346.04,499.56L346.04,512.60L346.77,512.60L346.77,510.58L347.50,510.58L347.50,503.99L348.22,503.99L348.22,516.48L348.95,516.48L348.95,512.92L349.68,512.92L349.68,514.24L350.41,514.24L350.41,510.97L351.14,510.97L351.14,516.85L351.87,516.85L351.87,524.62L352.60,524.62L352.60,528.07L353.32,528.07L353.32,530.91L354.05,530.91L354.05,527.10L354.78,527.10L354.78,538.33L355.51,538.33L355.51,541.18L356.24,541.18L356.24,541.66L356.97,541.66L356.97,546.00L357.70,546.00L357.70,548.85L358.42,548.85L358.42,554.46L359.15,554.46L359.15,553.43L359.88,553.43L359.88,557.05L360.61,557.05L360.61,554.23L361.34,554.23L361.34,557.76L362.07,557.76L362.07,561.63L362.79,561.63L362.79,561.79L363.52,561.79L363.52,566.22L364.25,566.22L364.25,564.62L364.98,564.62L364.98,568.79L365.71,568.79L365.71,569.25L366.44,569.25L366.44,574.68L367.17,574.68L367.17,573.02L367.89,573.02L367.89,577.31L368.62,577.31L368.62,577.94L369.35,577.94L369.35,576.30L370.08,576.30L370.08,577.90L370.81,577.90L370.81,577.01L371.54,577.01L371.54,575.93L372.27,575.93L372.27,579.67L372.99,579.67L372.99,579.66L373.72,579.66L373.72,578.91L374.45,578.91L374.45,578.85L375.18,578.85L375.18,579.90L375.91,579.90L375.91,580.20L376.64,580.20L376.64,579.51L377.37,579.51L377.37,580.00L378.09,580.00L378.09,581.77L378.82,581.77L378.82,581.01L379.55,581.01L379.55,581.03L380.28,581.03L380.28,582.11L381.01,582.11L381.01,581.08L381.74,581.08L381.74,582.14L382.46,582.14L382.46,580.76L383.19,580.76L383.19,581.52L383.92,581.52L383.92,581.73L384.65,581.73L384.65,582.35L385.38,582.35L385.38,582.12L386.11,582.12L386.11,583.30L386.84,583.30L386.84,582.95L387.56,582.95L387.56,582.02L388.29,582.02L388.29,583.38L389.02,583.38L389.02,581.82L389.75,581.82L389.75,583.43L390.48,583.43L390.48,581.99L391.21,581.99L391.21,582.98L391.94,582.98L391.94,582.09L392.66,582.09L392.66,582.51L393.39,582.51L393.39,583.46L394.12,583.46L394.12,582.02L394.85,582.02L394.85,581.98L395.58,581.98L395.58,582.80L396.31,582.80L396.31,582.94L397.04,582.94L397.04,582.93L397.76,582.93L397.76,583.34L398.49,583.34L398.49,582.48L399.22,582.48L399.22,583.20L399.95,583.20L399.95,583.01L400.68,583.01L400.68,583.32L401.41,583.32L401.41,583.27L402.13,583.27L402.13,583.50L402.86,583.50L402.86,582.55L403.59,582.55L403.59,583.11L404.32,583.11L404.32,582.70L405.05,582.70L405.05,583.07L405.78,583.07L405.78,583.35L406.51,583.35L406.51,583.22L407.23,583.22L407.23,583.32L407.96,583.32L407.96,583.13L408.69,583.13L408.69,583.27L409.42,583.27L409.42,583.26L410.15,583.26L410.15,583.50L410.88,583.50L410.88,583.45L411.61,583.45L411.61,582.72L412.33,582.72L412.33,583.42L413.06,583.42L413.06,583.50L413.79,583.50L413.79,583.14L414.52,583.14L414.52,582.84L415.25,582.84L415.25,583.50L415.98,583.50L415.98,583.33L416.71,583.33L416.71,583.46L417.43,583.46L417.43,583.50L418.16,583.50L418.16,583.11L418.89,583.11L418.89,583.31L419.62,583.31L419.62,583.29L420.35,583.29L420.35,583.50L421.08,583.50L421.08,583.19L421.80,583.19L421.80,583.45L422.53,583.45L422.53,583.35L423.26,583.35L423.26,583.50L423.99,583.50L423.99,583.50L424.72,583.50L424.72,582.98L425.45,582.98L425.45,583.44L426.18,583.44L426.18,583.25L426.90,583.25L426.90,583.33L427.63,583.33L427.63,583.43L428.36,583.43L428.36,583.45L429.09,583.45L429.09,583.17L429.82,583.17L429.82,583.40L430.55,583.40L430.55,583.36L431.28,583.36L431.28,583.32L432.00,583.32L432.00,583.05L432.73,583.05L432.73,583.17L433.46,583.17L433.46,583.24L434.19,583.24L434.19,583.47L434.92,583.47L434.92,583.50L435.65,583.50L435.65,583.12L436.38,583.12L436.38,583.11L437.10,583.11L437.10,583.37L437.83,583.37L437.83,583.22L438.56,583.22L438.56,583.16L439.29,583.16L439.29,583.16L440.02,583.16L440.02,583.14L440.75,583.14L440.75,583.45L441.47,583.45L441.47,583.01L442.20,583.01L442.20,583.50L442.93,583.50L442.93,583.16L443.66,583.16L443.66,583.24L444.39,583.24L444.39,583.16L445.12,583.16L445.12,583.03L445.85,583.03L445.85,583.03L446.57,583.03L446.57,583.50L447.30,583.50L447.30,583.50L448.03,583.50L448.03,583.19L448.76,583.19L448.76,583.50L449.49,583.50L449.49,583.37L450.22,583.37L450.22,583.19L450.95,583.19L450.95,583.50L451.67,583.50L451.67,583.50L452.40,583.50L452.40,583.32L453.13,583.32L453.13,583.36L453.86,583.36L453.86,583.42L454.59,583.42L454.59,583.37L455.32,583.37L455.32,583.50L456.04,583.50L456.04,583.50L456.77,583.50L456.77,583.41L457.50,583.41L457.50,583.50L458.23,583.50L458.23,583.50L458.96,583.50L458.96,583.29L459.69,583.29L459.69,583.40L460.42,583.40L460.42,583.31L461.14,583.31L461.14,583.50L461.87,583.50L461.87,583.50L462.60,583.50L462.60,583.50L463.33,583.50L463.33,583.50L464.06,583.50L464.06,583.36L464.79,583.36L464.79,583.50L465.52,583.50L465.52,583.33L466.24,583.33L466.24,583.34L466.97,583.34L466.97,583.13L467.70,583.13L467.70,583.50L468.43,583.50L468.43,583.25L469.16,583.25L469.16,583.42L469.89,583.42L469.89,583.41L470.62,583.41L470.62,583.50L471.34,583.50L471.34,583.49L472.07,583.49L472.07,583.28L472.80,583.28L472.80,583.43L473.53,583.43L473.53,583.40L474.26,583.40L474.26,583.46L474.99,583.46L474.99,583.23L475.71,583.23L475.71,583.42L476.44,583.42L476.44,583.50L477.17,583.50L477.17,583.50L477.90,583.50L477.90,583.50L478.63,583.50L478.63,583.50L479.36,583.50L479.36,583.50L480.09,583.50L480.09,583.22L480.81,583.22L480.81,583.42L481.54,583.42L481.54,583.50L482.27,583.50L482.27,583.50L483.00,583.50L483.00,583.50Z" fill="#000" stroke="#000" stroke-width="0.5"/>
<path d="M296.50,546.12L297.43,546.12L297.43,582.16L298.37,582.16L298.37,582.30L299.30,582.30L299.30,582.93L300.23,582.93L300.23,581.97L301.16,581.97L301.16,581.61L302.10,581.61L302.10,583.50L303.03,583.50L303.03,581.17L303.96,581.17L303.96,582.62L304.89,582.62L304.89,580.43L305.82,580.43L305.82,581.12L306.76,581.12L306.76,582.38L307.69,582.38L307.69,581.55L308.62,581.55L308.62,581.48L309.56,581.48L309.56,581.30L310.49,581.30L310.49,580.05L311.42,580.05L311.42,580.95L312.35,580.95L312.35,579.78L313.29,579.78L313.28,580.71L314.22,580.71L314.22,581.60L315.15,581.60L315.15,583.12L316.08,583.12L316.08,583.06L317.01,583.06L317.01,580.66L317.95,580.66L317.95,579.83L318.88,579.83L318.88,578.59L319.81,578.59L319.81,580.52L320.75,580.52L320.75,577.47L321.68,577.47L321.68,577.54L322.61,577.54L322.61,574.84L323.54,574.84L323.54,576.45L324.48,576.45L324.48,567.31L325.41,567.31L325.41,569.71L326.34,569.71L326.34,565.43L327.27,565.43L327.27,561.36L328.20,561.36L328.20,559.50L329.14,559.50L329.14,563.58L330.07,563.58L330.07,549.28L331.00,549.28L331.00,549.74L331.94,549.74L331.94,548.23L332.87,548.23L332.87,551.17L333.80,551.17L333.80,553.47L334.73,553.47L334.73,551.34L335.67,551.34L335.66,541.52L336.60,541.52L336.60,537.01L337.53,537.01L337.53,539.31L338.46,539.31L338.46,524.79L339.39,524.79L339.39,530.17L340.33,530.17L340.33,524.58L341.26,524.58L341.26,523.60L342.19,523.60L342.19,534.03L343.12,534.03L343.12,520.00L344.06,520.00L344.06,523.08L344.99,523.08L344.99,533.39L345.92,533.39L345.92,520.87L346.86,520.87L346.86,518.45L347.79,518.45L347.79,518.77L348.72,518.77L348.72,519.48L349.65,519.48L349.65,536.04L350.58,536.04L350.58,530.56L351.52,530.56L351.52,533.86L352.45,533.86L352.45,532.06L353.38,532.06L353.38,533.64L354.31,533.64L354.31,529.84L355.25,529.84L355.25,533.87L356.18,533.87L356.18,544.28L357.11,544.28L357.11,536.71L358.05,536.71L358.05,535.00L358.98,535.00L358.98,542.50L359.91,542.50L359.91,552.89L360.84,552.89L360.84,549.84L361.77,549.84L361.77,548.85L362.71,548.85L362.71,556.59L363.64,556.59L363.64,550.39L364.57,550.39L364.57,556.51L365.50,556.51L365.50,547.86L366.44,547.86L366.44,549.27L367.37,549.27L367.37,553.14L368.30,553.14L368.30,558.42L369.24,558.42L369.24,551.50L370.17,551.50L370.17,555.65L371.10,555.65L371.10,555.88L372.03,555.88L372.03,547.61L372.96,547.61L372.96,555.29L373.90,555.29L373.90,557.42L374.83,557.42L374.83,546.63L375.76,546.63L375.76,542.48L376.69,542.48L376.69,541.64L377.63,541.64L377.63,543.14L378.56,543.14L378.56,537.60L379.49,537.60L379.49,545.11L380.43,545.11L380.42,533.58L381.36,533.58L381.36,533.58L382.29,533.58L382.29,543.24L383.22,543.24L383.22,539.28L384.15,539.28L384.15,548.20L385.09,548.20L385.09,548.55L386.02,548.55L386.02,542.28L386.95,542.28L386.95,552.64L387.88,552.64L387.88,547.77L388.82,547.77L388.82,548.65L389.75,548.65L389.75,552.17L390.68,552.17L390.68,550.56L391.62,550.56L391.62,550.53L392.55,550.53L392.55,559.20L393.48,559.20L393.48,559.41L394.41,559.41L394.41,561.28L395.35,561.28L395.34,570.81L396.28,570.81L396.28,572.76L397.21,572.76L397.21,576.91L398.14,576.91L398.14,572.58L399.07,572.58L399.07,572.62L400.01,572.62L400.01,575.00L400.94,575.00L400.94,573.58L401.87,573.58L401.87,574.46L402.81,574.46L402.81,576.58L403.74,576.58L403.74,578.89L404.67,578.89L404.67,580.82L405.60,580.82L405.60,579.63L406.53,579.63L406.53,579.48L407.47,579.48L407.47,580.72L408.40,580.72L408.40,581.42L409.33,581.42L409.33,581.89L410.26,581.89L410.26,581.15L411.20,581.15L411.20,583.50L412.13,583.50L412.13,582.29L413.06,582.29L413.06,581.96L414.00,581.96L414.00,581.42L414.93,581.42L414.93,581.48L415.86,581.48L415.86,582.40L416.79,582.40L416.79,582.77L417.73,582.77L417.72,583.33L418.66,583.33L418.66,581.35L419.59,581.35L419.59,581.92L420.52,581.92L420.52,582.29L421.45,582.29L421.45,583.09L422.39,583.09L422.39,583.43L423.32,583.43L423.32,581.67L424.25,581.67L424.25,582.60L425.19,582.60L425.18,582.26L426.12,582.26L426.12,581.55L427.05,581.55L427.05,583.50L427.98,583.50L427.98,583.24L428.91,583.24L428.91,582.44L429.85,582.44L429.85,582.29L430.78,582.29L430.78,583.47L431.71,583.47L431.71,582.82L432.64,582.82L432.64,583.20L433.58,583.20" fill="none" stroke="#6e6e6e" stroke-width="1.3" stroke-linejoin="miter"/>
<rect x="297.0" y="450" width="186.5" height="133.5" fill="none" stroke="#7c7c7c" stroke-width="1.1"/>
<path d="M297.00,583.5v3.6M311.04,583.5v2.0M319.25,583.5v2.0M325.07,583.5v2.0M329.59,583.5v2.0M333.28,583.5v2.0M336.40,583.5v2.0M339.11,583.5v2.0M341.49,583.5v2.0M343.62,583.5v3.6M357.66,583.5v2.0M365.87,583.5v2.0M371.70,583.5v2.0M376.21,583.5v2.0M379.91,583.5v2.0M383.03,583.5v2.0M385.73,583.5v2.0M388.12,583.5v2.0M390.25,583.5v3.6M404.29,583.5v2.0M412.50,583.5v2.0M418.32,583.5v2.0M422.84,583.5v2.0M426.53,583.5v2.0M429.65,583.5v2.0M432.36,583.5v2.0M434.74,583.5v2.0M436.88,583.5v3.6M450.91,583.5v2.0M459.12,583.5v2.0M464.95,583.5v2.0M469.46,583.5v2.0M473.16,583.5v2.0M476.28,583.5v2.0M478.98,583.5v2.0M481.37,583.5v2.0M483.5,583.5v3.6" stroke="#7c7c7c" stroke-width="0.8" fill="none"/>
<path d="M296.5,583.50h-3M296.5,580.83h-1.5M296.5,578.16h-1.5M296.5,575.49h-1.5M296.5,572.82h-1.5M296.5,570.15h-1.5M296.5,567.48h-1.5M296.5,564.81h-1.5M296.5,562.14h-1.5M296.5,559.47h-1.5M296.5,556.80h-3M296.5,554.13h-1.5M296.5,551.46h-1.5M296.5,548.79h-1.5M296.5,546.12h-1.5M296.5,543.45h-1.5M296.5,540.78h-1.5M296.5,538.11h-1.5M296.5,535.44h-1.5M296.5,532.77h-1.5M296.5,530.10h-3M296.5,527.43h-1.5M296.5,524.76h-1.5M296.5,522.09h-1.5M296.5,519.42h-1.5M296.5,516.75h-1.5M296.5,514.08h-1.5M296.5,511.41h-1.5M296.5,508.74h-1.5M296.5,506.07h-1.5M296.5,503.40h-3M296.5,500.73h-1.5M296.5,498.06h-1.5M296.5,495.39h-1.5M296.5,492.72h-1.5M296.5,490.05h-1.5M296.5,487.38h-1.5M296.5,484.71h-1.5M296.5,482.04h-1.5M296.5,479.37h-1.5M296.5,476.70h-3M296.5,474.03h-1.5M296.5,471.36h-1.5M296.5,468.69h-1.5M296.5,466.02h-1.5M296.5,463.35h-1.5M296.5,460.68h-1.5M296.5,458.01h-1.5M296.5,455.34h-1.5M296.5,452.67h-1.5M296.5,450.00h-3" stroke="#7c7c7c" stroke-width="0.5" fill="none"/>
<text transform="translate(300.10,605.0) scale(1.1,1)" text-anchor="end" font-size="13">10</text>
<text transform="translate(300.20,598.0) scale(1.05,1)" font-size="12">0</text>
<text transform="translate(346.73,605.0) scale(1.1,1)" text-anchor="end" font-size="13">10</text>
<text transform="translate(346.82,598.0) scale(1.05,1)" font-size="12">1</text>
<text transform="translate(393.35,605.0) scale(1.1,1)" text-anchor="end" font-size="13">10</text>
<text transform="translate(393.45,598.0) scale(1.05,1)" font-size="12">2</text>
<text transform="translate(439.98,605.0) scale(1.1,1)" text-anchor="end" font-size="13">10</text>
<text transform="translate(440.07,598.0) scale(1.05,1)" font-size="12">3</text>
<text transform="translate(486.60,605.0) scale(1.1,1)" text-anchor="end" font-size="13">10</text>
<text transform="translate(486.70,598.0) scale(1.05,1)" font-size="12">4</text>
<text transform="translate(290.2,583.50) rotate(-90)" text-anchor="middle" font-size="14.6">0</text>
<text transform="translate(290.2,556.80) rotate(-90)" text-anchor="middle" font-size="14.6">20</text>
<text transform="translate(290.2,530.10) rotate(-90)" text-anchor="middle" font-size="14.6">40</text>
<text transform="translate(290.2,503.40) rotate(-90)" text-anchor="middle" font-size="14.6">60</text>
<text transform="translate(290.2,476.70) rotate(-90)" text-anchor="middle" font-size="14.6">80</text>
<text transform="translate(290.2,450.00) rotate(-90)" text-anchor="middle" font-size="14.6">100</text>
<text x="393" y="442.4" text-anchor="middle" font-size="17.5">GFR<tspan font-family="'DejaVu Sans', 'Liberation Sans', sans-serif" font-size="17.5">α</tspan>1 siRNA-3</text>
<text x="473.4" y="471.8" text-anchor="end" font-size="17.8">2.82</text>
<text x="25.7" y="40.4" font-size="20.5" font-weight="bold" stroke="#000" stroke-width="0.7" stroke-linejoin="round">A</text>
<text x="25.1" y="668.9" font-size="19.3" font-weight="bold" stroke="#000" stroke-width="0.7" stroke-linejoin="round">B</text>
<text transform="translate(41.9,403.3) rotate(-90)" font-size="18">Relative cell number</text>
<text x="200.8" y="631" font-size="17">fluorescence intensity</text>
<defs>
<filter id="b05" x="-30%" y="-200%" width="160%" height="500%"><feGaussianBlur stdDeviation="0.9 0.8"/></filter>
<filter id="b1" x="-30%" y="-200%" width="160%" height="500%"><feGaussianBlur stdDeviation="1.5 1.2"/></filter>
<filter id="b2" x="-30%" y="-200%" width="160%" height="500%"><feGaussianBlur stdDeviation="2.2 1.6"/></filter>
<filter id="b3" x="-50%" y="-50%" width="200%" height="200%"><feGaussianBlur stdDeviation="3.5 4"/></filter>
<filter id="b4" x="-50%" y="-50%" width="200%" height="200%"><feGaussianBlur stdDeviation="2 3.5"/></filter>
<filter id="grain" x="0" y="0" width="100%" height="100%"><feTurbulence type="fractalNoise" baseFrequency="0.16 0.10" numOctaves="2" seed="5" result="n"/><feColorMatrix type="matrix" values="0 0 0 0 0  0 0 0 0 0  0 0 0 0 0  0.9 0 0 0 -0.3"/></filter>
<clipPath id="c1"><rect x="149.6" y="678.6" width="225.6" height="59.39999999999998"/></clipPath>
<clipPath id="c2"><rect x="149.6" y="744.9" width="225.6" height="41.5"/></clipPath>
</defs>
<rect x="149.6" y="678.6" width="225.6" height="59.39999999999998" fill="#d1d1d1"/>
<g clip-path="url(#c1)">
<rect x="150" y="679" width="226.00" height="11.00" fill="#fff" opacity="0.18" filter="url(#b3)"/>
<rect x="150" y="730" width="226.00" height="8.00" fill="#000" opacity="0.05" filter="url(#b3)"/>
<rect x="157" y="696" width="43.00" height="35.00" fill="#000" opacity="0.25" filter="url(#b4)"/>
<rect x="208.5" y="694" width="37.50" height="36.00" fill="#000" opacity="0.25" filter="url(#b4)"/>
<rect x="255.5" y="691" width="33.50" height="38.00" fill="#000" opacity="0.29" filter="url(#b4)"/>
<rect x="157.5" y="684" width="10.50" height="38.00" fill="#000" opacity="0.3" filter="url(#b4)"/>
<rect x="160" y="682" width="38.00" height="12.00" fill="#000" opacity="0.08" filter="url(#b3)"/>
<rect x="210" y="682" width="35.00" height="10.00" fill="#000" opacity="0.08" filter="url(#b3)"/>
<rect x="256" y="681" width="32.00" height="9.00" fill="#000" opacity="0.1" filter="url(#b3)"/>
<rect x="297" y="683" width="34.00" height="51.00" fill="#000" opacity="0.06" filter="url(#b4)"/>
<rect x="339" y="683" width="32.00" height="51.00" fill="#000" opacity="0.07" filter="url(#b4)"/>
<rect x="201.5" y="681" width="5.00" height="56.00" fill="#fff" opacity="0.45" filter="url(#b1)"/>
<rect x="247.5" y="681" width="6.00" height="56.00" fill="#fff" opacity="0.75" filter="url(#b1)"/>
<rect x="290.5" y="683" width="4.50" height="54.00" fill="#fff" opacity="0.25" filter="url(#b1)"/>
<rect x="332" y="683" width="5.50" height="54.00" fill="#fff" opacity="0.22" filter="url(#b1)"/>
<rect x="166" y="714.5" width="30.00" height="6.00" fill="#fff" opacity="0.3" filter="url(#b1)"/>
<rect x="211" y="713" width="32.00" height="7.50" fill="#fff" opacity="0.22" filter="url(#b1)"/>
<rect x="197" y="698" width="3.50" height="31.00" fill="#000" opacity="0.45" filter="url(#b05)"/>
<rect x="243.3" y="693" width="3.30" height="35.00" fill="#000" opacity="0.4" filter="url(#b05)"/>
<rect x="286" y="690" width="3.60" height="37.00" fill="#000" opacity="0.4" filter="url(#b05)"/>
<rect x="157" y="700.8" width="43.00" height="5.60" fill="#000" opacity="0.2" filter="url(#b2)"/>
<rect x="157" y="708.8" width="43.00" height="5.00" fill="#000" opacity="0.44" filter="url(#b2)"/>
<rect x="209" y="699.5" width="37.00" height="5.00" fill="#000" opacity="0.24" filter="url(#b2)"/>
<rect x="209" y="706.5" width="37.00" height="5.40" fill="#000" opacity="0.33" filter="url(#b2)"/>
<rect x="255.5" y="695.5" width="34.00" height="5.70" fill="#000" opacity="0.5" filter="url(#b2)"/>
<rect x="255.5" y="704.1" width="34.00" height="5.80" fill="#000" opacity="0.44" filter="url(#b2)"/>
<rect x="156.5" y="722.6" width="44.00" height="7.20" fill="#000" opacity="0.96" filter="url(#b2)"/>
<rect x="157.5" y="723.8" width="42.00" height="4.60" fill="#000" opacity="0.6" filter="url(#b1)"/>
<rect x="155.5" y="720.3" width="10.50" height="9.70" fill="#000" opacity="0.85" filter="url(#b2)"/>
<rect x="208.5" y="722.9" width="38.00" height="5.90" fill="#000" opacity="0.95" filter="url(#b2)"/>
<rect x="210" y="724.2" width="35.50" height="3.20" fill="#000" opacity="0.4" filter="url(#b1)"/>
<rect x="255" y="719.4" width="34.80" height="7.60" fill="#000" opacity="0.96" filter="url(#b2)"/>
<rect x="256.5" y="720.8" width="32.30" height="4.80" fill="#000" opacity="0.5" filter="url(#b1)"/>
<rect x="297" y="719.8" width="34.00" height="6.40" fill="#000" opacity="0.93" filter="url(#b2)"/>
<rect x="299" y="722" width="30.00" height="2.40" fill="#000" opacity="0.12" filter="url(#b1)"/>
<rect x="339.5" y="719.4" width="31.50" height="6.60" fill="#000" opacity="0.82" filter="url(#b2)"/>
<rect x="149.6" y="678.6" width="225.6" height="59.39999999999998" fill="#000" opacity="0.22" filter="url(#grain)"/>
</g>
<rect x="149.6" y="678.6" width="225.6" height="59.39999999999998" fill="none" stroke="#000" stroke-width="1.4"/>
<rect x="149.6" y="744.9" width="225.6" height="41.5" fill="#f1f1f1"/>
<g clip-path="url(#c2)">
<rect x="152" y="746" width="224.00" height="11.00" fill="#000" opacity="0.1" filter="url(#b3)"/>
<rect x="260" y="747" width="75.00" height="10.00" fill="#000" opacity="0.07" filter="url(#b3)"/>
<rect x="163" y="747" width="6.00" height="4.00" fill="#000" opacity="0.35" filter="url(#b1)"/>
<path d="M153,765 L156,762.6 L170,762.2 L183,762.6 L190,762 L196,764.6 L204,766 L208.5,767.2 L213,765.6 L230,764.2 L245,762.3 L251,762 L254.5,764 L258,762.4 L264,761.6 L272,760.4 L284,759 L291,759.6 L296.5,763 L301,762 L308,761 L318,759.3 L330,757.6 L335.5,759.5 L335.5,764.5 L330,766.2 L318,767 L303,767.1 L296.5,766.6 L290,768.3 L275,768.5 L260,768.8 L254.5,767.8 L251,768.8 L240,770 L225,771.8 L214,772.2 L208.5,772.6 L203,774.6 L190,774.3 L175,773 L157,772.6 L153,770Z" fill="#000" opacity="0.55" filter="url(#b2)"/>
<path d="M153,765 L156,762.6 L170,762.2 L183,762.6 L190,762 L196,764.6 L204,766 L208.5,767.2 L213,765.6 L230,764.2 L245,762.3 L251,762 L254.5,764 L258,762.4 L264,761.6 L272,760.4 L284,759 L291,759.6 L296.5,763 L301,762 L308,761 L318,759.3 L330,757.6 L335.5,759.5 L335.5,764.5 L330,766.2 L318,767 L303,767.1 L296.5,766.6 L290,768.3 L275,768.5 L260,768.8 L254.5,767.8 L251,768.8 L240,770 L225,771.8 L214,772.2 L208.5,772.6 L203,774.6 L190,774.3 L175,773 L157,772.6 L153,770Z" fill="#000" opacity="1.0" filter="url(#b1)"/>
<path d="M153,766.2 L156,763.8000000000001 L170,763.4000000000001 L183,763.8000000000001 L190,763.2 L196,765.8000000000001 L204,767.2 L208.5,768.4000000000001 L213,766.8000000000001 L230,765.4000000000001 L245,763.5 L251,763.2 L254.5,765.2 L258,763.6 L264,762.8000000000001 L272,761.6 L284,760.2 L291,760.8000000000001 L296.5,764.2 L301,763.2 L308,762.2 L318,760.5 L330,758.8000000000001 L335.5,760.7 L335.5,763.3 L330,765.0 L318,765.8 L303,765.9 L296.5,765.4 L290,767.0999999999999 L275,767.3 L260,767.5999999999999 L254.5,766.5999999999999 L251,767.5999999999999 L240,768.8 L225,770.5999999999999 L214,771.0 L208.5,771.4 L203,773.4 L190,773.0999999999999 L175,771.8 L157,771.4 L153,768.8Z" fill="#000" opacity="1.0" filter="url(#b05)"/>
<path d="M340.5,760 L346,758.7 L356,758.2 L364,756.6 L369,756 L371.5,757.5 L371.5,760 L371,761.5 L366,763 L358,763.6 L347,763.6 L340.5,762.5Z" fill="#000" opacity="1.0" filter="url(#b1)"/>
<path d="M340.5,760.8 L346,759.5 L356,759.0 L364,757.4 L369,756.8 L371.5,758.3 L371.5,759.2 L371,760.7 L366,762.2 L358,762.8000000000001 L347,762.8000000000001 L340.5,761.7Z" fill="#000" opacity="1.0" filter="url(#b05)"/>
<rect x="149.6" y="744.9" width="225.6" height="41.5" fill="#000" opacity="0.10" filter="url(#grain)"/>
</g>
<rect x="149.6" y="744.9" width="225.6" height="41.5" fill="none" stroke="#000" stroke-width="1.4"/>
<text x="171.2" y="672.6" text-anchor="middle" font-size="16" font-weight="bold">1</text>
<text x="215.6" y="672.6" text-anchor="middle" font-size="16" font-weight="bold">2</text>
<text x="260.6" y="672.6" text-anchor="middle" font-size="16" font-weight="bold">3</text>
<text x="305.9" y="672.6" text-anchor="middle" font-size="16" font-weight="bold">4</text>
<text x="350.5" y="672.6" text-anchor="middle" font-size="16" font-weight="bold">5</text>
<text x="73.7" y="710.2" font-size="17.5">RET</text>
<path d="M112.3,705.2H130.6 M130.6,700.5H149 M130.6,710H149 M130.6,700.5V710 M129.6,725H149 M129.6,769H149" stroke="#000" stroke-width="1.3" fill="none"/>
<text x="117" y="736" font-size="22.5" font-weight="bold">*</text>
<text x="74" y="774.3" font-size="17.3">Tubulin</text>
<path d="M375,693.8H385.3 M375,712.9H385.3 M375,766.3H385" stroke="#000" stroke-width="1.3" fill="none"/>
<text x="392.2" y="699.3" font-size="17">173 kDa</text>
<text x="392.2" y="718.7" font-size="17">115 kDa</text>
<text x="392.6" y="773.4" font-size="17.3">50 kDa</text>
<rect x="0.6" y="0.5" width="518.6" height="811.6" fill="none" stroke="#000" stroke-width="1.3"/>
</svg>
</body></html>
